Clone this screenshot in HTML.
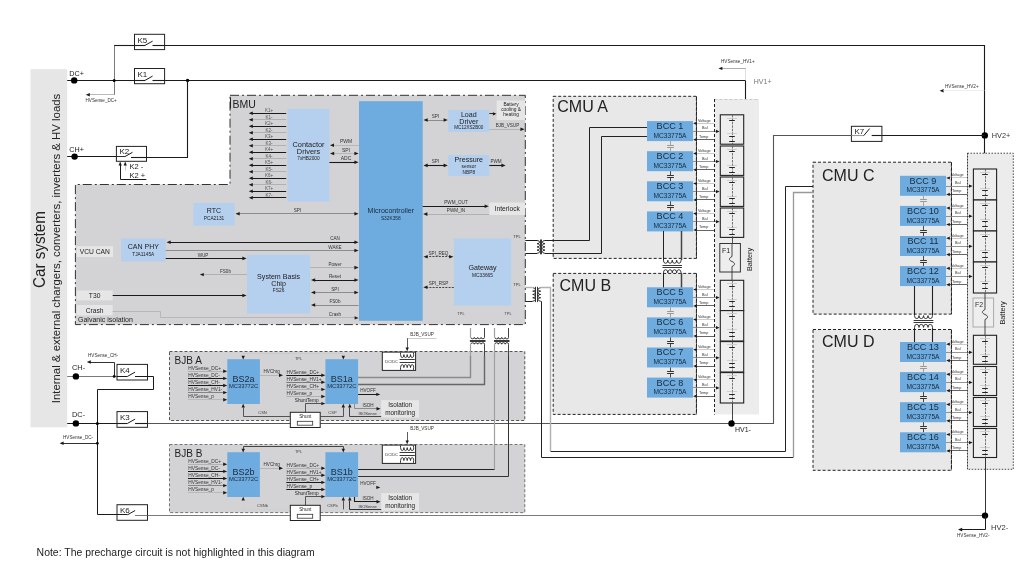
<!DOCTYPE html>
<html lang="en"><head><meta charset="utf-8"><title>HVBMS block diagram</title>
<style>html,body{margin:0;padding:0;background:#fff}body{width:1030px;height:579px;overflow:hidden}svg{display:block;filter:blur(0.4px)}</style>
</head><body>
<svg width="1030" height="579" viewBox="0 0 1030 579" font-family='"Liberation Sans", sans-serif'>
<rect width="1030" height="579" fill="#fff"/>
<rect x="30.5" y="69.2" width="36.7" height="358.1" fill="#e6e6e6" stroke="none" stroke-width="1"/>
<polygon points="230.0,95.3 525.3,95.3 525.3,324.6 75.4,324.6 75.4,184.5 230.0,184.5" fill="#d3d3d5" stroke="#333" stroke-width="1" stroke-dasharray="9 3 2 3"/>
<rect x="169.5" y="351.5" width="355.3" height="69.0" fill="#d3d3d5" stroke="#444" stroke-width="0.9" stroke-dasharray="3 2"/>
<rect x="169.5" y="444.5" width="355.3" height="68.1" fill="#d3d3d5" stroke="#666" stroke-width="0.9" stroke-dasharray="3 2"/>
<rect x="553.2" y="96.3" width="143.2" height="162.1" fill="#e8e8e8" stroke="#222" stroke-width="1" stroke-dasharray="3 2"/>
<rect x="553.2" y="273.4" width="143.2" height="141.0" fill="#e8e8e8" stroke="#222" stroke-width="1" stroke-dasharray="3 2"/>
<rect x="813.0" y="162.2" width="138.4" height="151.9" fill="#e8e8e8" stroke="#222" stroke-width="1" stroke-dasharray="3 2"/>
<rect x="813.0" y="329.5" width="138.4" height="140.8" fill="#e8e8e8" stroke="#222" stroke-width="1" stroke-dasharray="3 2"/>
<rect x="714.4" y="99.0" width="44.6" height="315.4" fill="#ececec" stroke="none" stroke-width="1"/>
<polyline points="714.5,99.0 714.5,414.4" fill="none" stroke="#222" stroke-width="1" stroke-dasharray="3 2"/>
<polyline points="714.4,99.5 759.0,99.5" fill="none" stroke="#bbb" stroke-width="0.7" stroke-dasharray="3 2"/>
<rect x="967.5" y="153.2" width="45.8" height="316.1" fill="#ececec" stroke="#333" stroke-width="0.9" stroke-dasharray="1.5 1.5"/>
<text x="45.3" y="249.5" font-size="16.2" text-anchor="middle" fill="#222" transform="rotate(-90 45.3 249.5)" textLength="77" lengthAdjust="spacingAndGlyphs">Car system</text>
<text x="60.3" y="248.5" font-size="11.4" text-anchor="middle" fill="#222" transform="rotate(-90 60.3 248.5)">Internal &amp; external chargers, converters, inverters &amp; HV loads</text>
<polyline points="67.2,80.5 144.8,80.5" fill="none" stroke="#1a1a1a" stroke-width="1.1"/>
<polyline points="152.5,80.5 745.8,80.5" fill="none" stroke="#1a1a1a" stroke-width="1.1"/>
<circle cx="74.2" cy="80.4" r="3.2" fill="#000"/>
<text x="69.3" y="75.8" font-size="7.2" text-anchor="start" fill="#1a1a1a">DC+</text>
<polyline points="114.5,94.8 114.5,45.4" fill="none" stroke="#7a7a7a" stroke-width="1"/>
<polyline points="114.2,45.5 144.8,45.5" fill="none" stroke="#1a1a1a" stroke-width="1.1"/>
<polyline points="152.5,45.5 984.5,45.5 984.5,153.2" fill="none" stroke="#1a1a1a" stroke-width="1.1"/>
<circle cx="114.2" cy="80.4" r="1.5" fill="#000"/>
<circle cx="187.6" cy="80.4" r="1.7" fill="#000"/>
<polyline points="88.0,94.5 114.2,94.5" fill="none" stroke="#a8a8a8" stroke-width="0.8"/>
<polygon points="85.8,94.8 89.8,93.1 89.8,96.5" fill="#1a1a1a"/>
<text x="85.5" y="102.3" font-size="4.6" text-anchor="start" fill="#333">HVSense_DC+</text>
<polyline points="187.5,80.4 187.5,157.5 131.0,157.5" fill="none" stroke="#1a1a1a" stroke-width="1.1"/>
<polyline points="67.2,156.5 127.0,156.5" fill="none" stroke="#1a1a1a" stroke-width="1"/>
<circle cx="74.6" cy="156.6" r="3.2" fill="#000"/>
<text x="69.3" y="152.0" font-size="7.2" text-anchor="start" fill="#1a1a1a">CH+</text>
<rect x="134.5" y="34.3" width="30.1" height="15.3" fill="#fff" stroke="#222" stroke-width="1"/>
<polyline points="145.0,45.4 152.6,41.1" fill="none" stroke="#1a1a1a" stroke-width="1"/>
<text x="137.5" y="42.8" font-size="8" text-anchor="start" fill="#222">K5</text>
<polyline points="152.5,45.5 164.6,45.5" fill="none" stroke="#1a1a1a" stroke-width="1.1"/>
<polyline points="134.5,45.5 145.0,45.5" fill="none" stroke="#1a1a1a" stroke-width="1.1"/>
<rect x="134.5" y="68.5" width="30.1" height="15.2" fill="#fff" stroke="#222" stroke-width="1"/>
<polyline points="145.0,80.4 152.6,76.1" fill="none" stroke="#1a1a1a" stroke-width="1"/>
<text x="137.5" y="77.0" font-size="8" text-anchor="start" fill="#222">K1</text>
<polyline points="152.5,80.5 164.6,80.5" fill="none" stroke="#1a1a1a" stroke-width="1.1"/>
<polyline points="134.5,80.5 145.0,80.5" fill="none" stroke="#1a1a1a" stroke-width="1.1"/>
<rect x="116.4" y="146.4" width="30.1" height="14.9" fill="#fff" stroke="#222" stroke-width="1"/>
<polyline points="124.9,156.6 132.5,152.3" fill="none" stroke="#1a1a1a" stroke-width="1"/>
<text x="119.4" y="153.9" font-size="8" text-anchor="start" fill="#222">K2</text>
<polyline points="131.0,157.5 146.3,157.5" fill="none" stroke="#1a1a1a" stroke-width="1.1"/>
<polyline points="116.4,156.5 125.0,156.5" fill="none" stroke="#1a1a1a" stroke-width="0.9"/>
<polyline points="120.5,163.5 120.5,179.5 146.3,179.5" fill="none" stroke="#1a1a1a" stroke-width="1"/>
<polygon points="120.2,161.6 118.6,165.6 121.8,165.6" fill="#1a1a1a"/>
<polyline points="125.5,163.5 125.5,170.5" fill="none" stroke="#bbb" stroke-width="0.8"/>
<polygon points="125.2,161.6 123.6,165.6 126.8,165.6" fill="#1a1a1a"/>
<text x="129.6" y="169.2" font-size="7.5" text-anchor="start" fill="#1a1a1a">K2 -</text>
<text x="129.6" y="177.6" font-size="7.5" text-anchor="start" fill="#1a1a1a">K2 +</text>
<polyline points="67.2,376.5 127.5,376.5" fill="none" stroke="#7a7a7a" stroke-width="1"/>
<circle cx="75.9" cy="376.4" r="3.2" fill="#000"/>
<text x="72.0" y="369.8" font-size="7.4" text-anchor="start" fill="#1a1a1a">CH-</text>
<circle cx="114.2" cy="376.4" r="1.4" fill="#000"/>
<polyline points="114.5,376.4 114.5,362.5 89.0,362.5" fill="none" stroke="#1a1a1a" stroke-width="0.9"/>
<polygon points="86.8,362.0 90.8,360.3 90.8,363.7" fill="#1a1a1a"/>
<text x="88.0" y="357.0" font-size="4.6" text-anchor="start" fill="#333">HVSense_CH-</text>
<rect x="117.0" y="364.4" width="30.5" height="15.6" fill="#fff" stroke="#222" stroke-width="1"/>
<polyline points="127.5,376.4 135.1,372.1" fill="none" stroke="#1a1a1a" stroke-width="1"/>
<text x="120.0" y="372.9" font-size="8" text-anchor="start" fill="#222">K4</text>
<polyline points="117.0,376.5 127.5,376.5" fill="none" stroke="#1a1a1a" stroke-width="1"/>
<polyline points="135.0,376.5 153.5,376.5 153.5,389.5 97.5,389.5 97.5,514.5 127.5,514.5" fill="none" stroke="#1a1a1a" stroke-width="1"/>
<polyline points="67.2,423.5 127.5,423.5" fill="none" stroke="#1a1a1a" stroke-width="1.1"/>
<circle cx="75.9" cy="423.4" r="3.2" fill="#000"/>
<circle cx="97.3" cy="423.4" r="1.5" fill="#000"/>
<text x="72.0" y="417.0" font-size="7.4" text-anchor="start" fill="#1a1a1a">DC-</text>
<polyline points="135.0,423.5 773.5,423.5 773.5,135.5 851.4,135.5" fill="none" stroke="#555" stroke-width="1.1"/>
<rect x="117.0" y="411.6" width="30.5" height="15.7" fill="#fff" stroke="#222" stroke-width="1"/>
<polyline points="127.5,423.4 135.1,419.1" fill="none" stroke="#1a1a1a" stroke-width="1"/>
<text x="120.0" y="420.1" font-size="8" text-anchor="start" fill="#222">K3</text>
<polyline points="117.0,423.5 127.5,423.5" fill="none" stroke="#1a1a1a" stroke-width="1.1"/>
<polyline points="135.0,423.5 147.5,423.5" fill="none" stroke="#1a1a1a" stroke-width="1.1"/>
<circle cx="97.3" cy="443.3" r="1.4" fill="#000"/>
<polyline points="62.0,443.5 97.3,443.5" fill="none" stroke="#1a1a1a" stroke-width="0.9"/>
<polygon points="59.6,443.3 63.6,441.6 63.6,445.0" fill="#1a1a1a"/>
<text x="63.0" y="439.0" font-size="4.6" text-anchor="start" fill="#333">HVSense_DC-</text>
<polyline points="135.0,515.5 985.0,515.5" fill="none" stroke="#7a7a7a" stroke-width="1"/>
<rect x="117.0" y="504.7" width="30.5" height="15.6" fill="#fff" stroke="#222" stroke-width="1"/>
<polyline points="127.5,514.8 135.1,510.5" fill="none" stroke="#1a1a1a" stroke-width="1"/>
<text x="120.0" y="513.2" font-size="8" text-anchor="start" fill="#222">K6</text>
<polyline points="117.0,514.5 127.5,514.5" fill="none" stroke="#1a1a1a" stroke-width="1"/>
<polyline points="135.0,515.5 147.5,515.5" fill="none" stroke="#7a7a7a" stroke-width="1"/>
<text x="232.5" y="108.0" font-size="10.5" text-anchor="start" fill="#222">BMU</text>
<polyline points="230.5,97.5 230.5,108.5" fill="none" stroke="#222" stroke-width="1"/>
<rect x="287.6" y="108.7" width="41.8" height="93.0" fill="#b5cfee" stroke="none" stroke-width="1"/>
<text x="308.5" y="147.0" font-size="7.4" text-anchor="middle" fill="#222">Contactor</text>
<text x="308.5" y="153.5" font-size="7.4" text-anchor="middle" fill="#222">Drivers</text>
<text x="308.5" y="159.8" font-size="4.8" text-anchor="middle" fill="#222">7xHB2000</text>
<polyline points="251.5,113.5 286.2,113.5" fill="none" stroke="#1a1a1a" stroke-width="1.1"/>
<polygon points="248.8,113.2 252.8,111.5 252.8,114.9" fill="#1a1a1a"/>
<text x="269.0" y="112.1" font-size="4.5" text-anchor="middle" fill="#555">K1+</text>
<polyline points="251.5,119.5 286.2,119.5" fill="none" stroke="#a8a8a8" stroke-width="0.8"/>
<polygon points="248.8,119.7 252.8,118.0 252.8,121.4" fill="#1a1a1a"/>
<text x="269.0" y="118.6" font-size="4.5" text-anchor="middle" fill="#555">K1-</text>
<polyline points="251.5,126.5 286.2,126.5" fill="none" stroke="#1a1a1a" stroke-width="1.1"/>
<polygon points="248.8,126.2 252.8,124.5 252.8,127.9" fill="#1a1a1a"/>
<text x="269.0" y="125.1" font-size="4.5" text-anchor="middle" fill="#555">K2+</text>
<polyline points="251.5,132.5 286.2,132.5" fill="none" stroke="#a8a8a8" stroke-width="0.8"/>
<polygon points="248.8,132.7 252.8,131.0 252.8,134.4" fill="#1a1a1a"/>
<text x="269.0" y="131.6" font-size="4.5" text-anchor="middle" fill="#555">K2-</text>
<polyline points="251.5,139.5 286.2,139.5" fill="none" stroke="#1a1a1a" stroke-width="1.1"/>
<polygon points="248.8,139.2 252.8,137.5 252.8,140.9" fill="#1a1a1a"/>
<text x="269.0" y="138.1" font-size="4.5" text-anchor="middle" fill="#555">K3+</text>
<polyline points="251.5,145.5 286.2,145.5" fill="none" stroke="#a8a8a8" stroke-width="0.8"/>
<polygon points="248.8,145.7 252.8,144.0 252.8,147.4" fill="#1a1a1a"/>
<text x="269.0" y="144.6" font-size="4.5" text-anchor="middle" fill="#555">K3-</text>
<polyline points="251.5,152.5 286.2,152.5" fill="none" stroke="#1a1a1a" stroke-width="1.1"/>
<polygon points="248.8,152.2 252.8,150.5 252.8,153.9" fill="#1a1a1a"/>
<text x="269.0" y="151.1" font-size="4.5" text-anchor="middle" fill="#555">K4+</text>
<polyline points="251.5,158.5 286.2,158.5" fill="none" stroke="#a8a8a8" stroke-width="0.8"/>
<polygon points="248.8,158.7 252.8,157.0 252.8,160.4" fill="#1a1a1a"/>
<text x="269.0" y="157.6" font-size="4.5" text-anchor="middle" fill="#555">K4-</text>
<polyline points="251.5,165.5 286.2,165.5" fill="none" stroke="#1a1a1a" stroke-width="1.1"/>
<polygon points="248.8,165.2 252.8,163.5 252.8,166.9" fill="#1a1a1a"/>
<text x="269.0" y="164.1" font-size="4.5" text-anchor="middle" fill="#555">K5+</text>
<polyline points="251.5,171.5 286.2,171.5" fill="none" stroke="#a8a8a8" stroke-width="0.8"/>
<polygon points="248.8,171.7 252.8,170.0 252.8,173.4" fill="#1a1a1a"/>
<text x="269.0" y="170.6" font-size="4.5" text-anchor="middle" fill="#555">K5-</text>
<polyline points="251.5,178.5 286.2,178.5" fill="none" stroke="#1a1a1a" stroke-width="1.1"/>
<polygon points="248.8,178.2 252.8,176.5 252.8,179.9" fill="#1a1a1a"/>
<text x="269.0" y="177.1" font-size="4.5" text-anchor="middle" fill="#555">K6+</text>
<polyline points="251.5,184.5 286.2,184.5" fill="none" stroke="#a8a8a8" stroke-width="0.8"/>
<polygon points="248.8,184.7 252.8,183.0 252.8,186.4" fill="#1a1a1a"/>
<text x="269.0" y="183.6" font-size="4.5" text-anchor="middle" fill="#555">K6-</text>
<polyline points="251.5,191.5 286.2,191.5" fill="none" stroke="#1a1a1a" stroke-width="1.1"/>
<polygon points="248.8,191.2 252.8,189.5 252.8,192.9" fill="#1a1a1a"/>
<text x="269.0" y="190.1" font-size="4.5" text-anchor="middle" fill="#555">K7+</text>
<polyline points="251.5,197.5 286.2,197.5" fill="none" stroke="#1a1a1a" stroke-width="1.1"/>
<polygon points="248.8,197.7 252.8,196.0 252.8,199.4" fill="#1a1a1a"/>
<text x="269.0" y="196.6" font-size="4.5" text-anchor="middle" fill="#555">K7-</text>
<polyline points="332.0,145.5 359.0,145.5" fill="none" stroke="#a8a8a8" stroke-width="0.7"/>
<polygon points="330.0,145.2 334.0,143.5 334.0,146.9" fill="#1a1a1a"/>
<text x="346.0" y="143.4" font-size="5" text-anchor="middle" fill="#333">PWM</text>
<polyline points="332.5,153.5 356.1,153.5" fill="none" stroke="#a8a8a8" stroke-width="0.7"/>
<polygon points="358.6,153.5 354.4,151.7 354.4,155.3" fill="#1a1a1a"/>
<polygon points="330.0,153.5 334.2,151.7 334.2,155.3" fill="#1a1a1a"/>
<text x="346.0" y="151.7" font-size="5" text-anchor="middle" fill="#333">SPI</text>
<polyline points="329.4,162.5 356.1,162.5" fill="none" stroke="#1a1a1a" stroke-width="1.1"/>
<polygon points="358.6,162.2 354.4,160.4 354.4,164.0" fill="#1a1a1a"/>
<text x="346.0" y="160.2" font-size="5" text-anchor="middle" fill="#333">ADC</text>
<rect x="359.0" y="101.2" width="63.7" height="219.6" fill="#6eabdf" stroke="none" stroke-width="1"/>
<text x="390.8" y="213.3" font-size="7.1" text-anchor="middle" fill="#1a2a3a">Microcontroller</text>
<text x="390.8" y="219.6" font-size="4.8" text-anchor="middle" fill="#1a2a3a">S32K358</text>
<rect x="193.5" y="203.0" width="41.1" height="22.6" fill="#b5cfee" stroke="none" stroke-width="1"/>
<text x="214.0" y="213.2" font-size="7" text-anchor="middle" fill="#222">RTC</text>
<text x="214.0" y="219.6" font-size="4.8" text-anchor="middle" fill="#222">PCA2131</text>
<polyline points="238.0,213.5 356.1,213.5" fill="none" stroke="#7a7a7a" stroke-width="0.8"/>
<polygon points="358.6,213.7 354.4,211.9 354.4,215.5" fill="#1a1a1a"/>
<polygon points="235.5,213.7 239.7,211.9 239.7,215.5" fill="#1a1a1a"/>
<text x="297.5" y="211.8" font-size="4.6" text-anchor="middle" fill="#333">SPI</text>
<rect x="121.0" y="238.5" width="44.7" height="22.9" fill="#b5cfee" stroke="none" stroke-width="1"/>
<text x="143.3" y="249.3" font-size="7" text-anchor="middle" fill="#222">CAN PHY</text>
<text x="143.3" y="255.8" font-size="4.8" text-anchor="middle" fill="#222">TJA1145A</text>
<rect x="76.6" y="246.2" width="36.4" height="10.8" fill="#e6e6e6" stroke="none" stroke-width="1"/>
<text x="94.8" y="254.2" font-size="6.7" text-anchor="middle" fill="#222">VCU CAN</text>
<polyline points="169.0,242.5 356.1,242.5" fill="none" stroke="#1a1a1a" stroke-width="1.1"/>
<polygon points="358.6,242.3 354.4,240.5 354.4,244.1" fill="#1a1a1a"/>
<polygon points="166.5,242.3 170.7,240.5 170.7,244.1" fill="#1a1a1a"/>
<text x="335.0" y="240.3" font-size="4.6" text-anchor="middle" fill="#333">CAN</text>
<polyline points="165.7,250.5 356.1,250.5" fill="none" stroke="#7a7a7a" stroke-width="0.8"/>
<polygon points="358.6,250.5 354.4,248.7 354.4,252.3" fill="#1a1a1a"/>
<text x="335.0" y="248.6" font-size="4.6" text-anchor="middle" fill="#333">WAKE</text>
<polyline points="165.7,258.5 244.1,258.5" fill="none" stroke="#1a1a1a" stroke-width="1.1"/>
<polygon points="246.6,258.4 242.4,256.6 242.4,260.2" fill="#1a1a1a"/>
<text x="203.0" y="256.5" font-size="4.6" text-anchor="middle" fill="#333">WUP</text>
<rect x="247.0" y="254.7" width="63.2" height="58.9" fill="#b5cfee" stroke="none" stroke-width="1"/>
<text x="278.6" y="278.6" font-size="7.1" text-anchor="middle" fill="#222">System Basis</text>
<text x="278.6" y="285.8" font-size="7.1" text-anchor="middle" fill="#222">Chip</text>
<text x="278.6" y="292.0" font-size="4.8" text-anchor="middle" fill="#222">FS26</text>
<polyline points="202.0,274.5 247.0,274.5" fill="none" stroke="#a8a8a8" stroke-width="0.8"/>
<polygon points="199.8,274.6 203.8,272.9 203.8,276.3" fill="#1a1a1a"/>
<text x="225.5" y="272.6" font-size="4.6" text-anchor="middle" fill="#333">FS0b</text>
<rect x="76.6" y="290.5" width="36.1" height="9.9" fill="#e6e6e6" stroke="none" stroke-width="1"/>
<text x="94.6" y="298.0" font-size="6.7" text-anchor="middle" fill="#222">T30</text>
<polyline points="112.7,295.5 244.1,295.5" fill="none" stroke="#1a1a1a" stroke-width="1"/>
<polygon points="246.6,295.5 242.4,293.7 242.4,297.3" fill="#1a1a1a"/>
<rect x="76.6" y="305.0" width="36.1" height="10.4" fill="#e6e6e6" stroke="none" stroke-width="1"/>
<text x="94.6" y="312.7" font-size="6.7" text-anchor="middle" fill="#222">Crash</text>
<polyline points="112.7,311.5 160.5,311.5 160.5,317.5 355.0,317.5" fill="none" stroke="#b0b0b0" stroke-width="0.8"/>
<polygon points="358.6,317.9 354.6,316.2 354.6,319.6" fill="#1a1a1a"/>
<text x="78.0" y="322.2" font-size="7.0" text-anchor="start" fill="#222">Galvanic isolation</text>
<polyline points="310.2,267.5 356.1,267.5" fill="none" stroke="#a8a8a8" stroke-width="0.8"/>
<polygon points="358.6,267.6 354.4,265.8 354.4,269.4" fill="#1a1a1a"/>
<text x="335.0" y="265.8" font-size="4.6" text-anchor="middle" fill="#333">Power</text>
<polyline points="313.5,280.5 356.1,280.5" fill="none" stroke="#1a1a1a" stroke-width="1.1"/>
<polygon points="358.6,280.0 354.4,278.2 354.4,281.8" fill="#1a1a1a"/>
<polygon points="311.0,280.0 315.2,278.2 315.2,281.8" fill="#1a1a1a"/>
<text x="335.0" y="278.2" font-size="4.6" text-anchor="middle" fill="#333">Reset</text>
<polyline points="313.5,292.5 356.1,292.5" fill="none" stroke="#7a7a7a" stroke-width="0.8"/>
<polygon points="358.6,292.5 354.4,290.7 354.4,294.3" fill="#1a1a1a"/>
<polygon points="311.0,292.5 315.2,290.7 315.2,294.3" fill="#1a1a1a"/>
<text x="335.0" y="290.6" font-size="4.6" text-anchor="middle" fill="#333">SPI</text>
<polyline points="358.6,305.5 313.5,305.5" fill="none" stroke="#7a7a7a" stroke-width="0.8"/>
<polygon points="311.0,305.0 315.2,303.2 315.2,306.8" fill="#1a1a1a"/>
<text x="335.0" y="303.2" font-size="4.6" text-anchor="middle" fill="#333">FS0b</text>
<text x="335.0" y="316.0" font-size="4.6" text-anchor="middle" fill="#333">Crash</text>
<rect x="448.3" y="110.0" width="41.0" height="22.0" fill="#b5cfee" stroke="none" stroke-width="1"/>
<text x="468.8" y="117.0" font-size="7.1" text-anchor="middle" fill="#222">Load</text>
<text x="468.8" y="123.8" font-size="7.1" text-anchor="middle" fill="#222">Driver</text>
<text x="468.8" y="129.2" font-size="4.6" text-anchor="middle" fill="#222">MC12XS2B00</text>
<polyline points="426.0,120.5 445.3,120.5" fill="none" stroke="#7a7a7a" stroke-width="0.8"/>
<polygon points="447.8,120.0 443.6,118.2 443.6,121.8" fill="#1a1a1a"/>
<polygon points="423.5,120.0 427.7,118.2 427.7,121.8" fill="#1a1a1a"/>
<text x="435.5" y="118.2" font-size="4.6" text-anchor="middle" fill="#333">SPI</text>
<rect x="496.7" y="100.5" width="28.6" height="19.5" fill="#e6e6e6" stroke="none" stroke-width="1"/>
<text x="511.0" y="106.0" font-size="4.8" text-anchor="middle" fill="#222">Battery</text>
<text x="511.0" y="111.2" font-size="4.8" text-anchor="middle" fill="#222">cooling &amp;</text>
<text x="511.0" y="116.4" font-size="4.8" text-anchor="middle" fill="#222">heating</text>
<polyline points="489.3,113.5 494.3,113.5" fill="none" stroke="#1a1a1a" stroke-width="0.9"/>
<polygon points="496.5,113.8 492.9,112.2 492.9,115.4" fill="#1a1a1a"/>
<text x="507.5" y="127.0" font-size="4.6" text-anchor="middle" fill="#333">BJB_VSUP</text>
<polyline points="489.3,129.5 522.1,129.5" fill="none" stroke="#a8a8a8" stroke-width="0.7"/>
<polygon points="524.6,129.2 520.4,127.4 520.4,131.0" fill="#1a1a1a"/>
<rect x="448.3" y="155.0" width="41.0" height="21.0" fill="#b5cfee" stroke="none" stroke-width="1"/>
<text x="468.8" y="162.0" font-size="7.1" text-anchor="middle" fill="#222">Pressure</text>
<text x="468.8" y="168.0" font-size="4.8" text-anchor="middle" fill="#222">sensor</text>
<text x="468.8" y="174.2" font-size="4.8" text-anchor="middle" fill="#222">NBP8</text>
<polyline points="426.0,165.5 445.3,165.5" fill="none" stroke="#1a1a1a" stroke-width="1.1"/>
<polygon points="447.8,165.4 443.6,163.6 443.6,167.2" fill="#1a1a1a"/>
<polygon points="423.5,165.4 427.7,163.6 427.7,167.2" fill="#1a1a1a"/>
<text x="435.5" y="163.4" font-size="4.6" text-anchor="middle" fill="#333">SPI</text>
<polyline points="489.3,165.5 503.1,165.5" fill="none" stroke="#1a1a1a" stroke-width="1.1"/>
<polygon points="505.6,165.4 501.4,163.6 501.4,167.2" fill="#1a1a1a"/>
<text x="496.0" y="163.4" font-size="4.6" text-anchor="middle" fill="#333">PWM</text>
<rect x="489.3" y="202.5" width="36.0" height="12.5" fill="#e6e6e6" stroke="none" stroke-width="1"/>
<text x="507.3" y="211.0" font-size="6.7" text-anchor="middle" fill="#222">Interlock</text>
<polyline points="422.7,206.5 486.3,206.5" fill="none" stroke="#1a1a1a" stroke-width="1.1"/>
<polygon points="488.8,206.2 484.6,204.4 484.6,208.0" fill="#1a1a1a"/>
<text x="456.0" y="204.4" font-size="4.6" text-anchor="middle" fill="#333">PWM_OUT</text>
<polyline points="489.3,214.5 425.7,214.5" fill="none" stroke="#a8a8a8" stroke-width="0.8"/>
<polygon points="423.2,214.1 427.4,212.3 427.4,215.9" fill="#1a1a1a"/>
<text x="456.0" y="212.4" font-size="4.6" text-anchor="middle" fill="#333">PWM_IN</text>
<rect x="453.8" y="238.4" width="57.4" height="67.2" fill="#b5cfee" stroke="none" stroke-width="1"/>
<text x="482.5" y="270.0" font-size="7.1" text-anchor="middle" fill="#222">Gateway</text>
<text x="482.5" y="276.6" font-size="4.8" text-anchor="middle" fill="#222">MC33665</text>
<polyline points="426.0,256.5 450.9,256.5" fill="none" stroke="#333" stroke-width="0.9" stroke-dasharray="2 1.2"/>
<polygon points="453.4,256.8 449.2,255.0 449.2,258.6" fill="#1a1a1a"/>
<polygon points="423.5,256.8 427.7,255.0 427.7,258.6" fill="#1a1a1a"/>
<text x="438.5" y="254.8" font-size="4.6" text-anchor="middle" fill="#333">SPI_REQ</text>
<polyline points="453.8,287.5 425.8,287.5" fill="none" stroke="#333" stroke-width="0.9" stroke-dasharray="2 1.2"/>
<polygon points="423.3,287.2 427.5,285.4 427.5,289.0" fill="#1a1a1a"/>
<text x="438.5" y="285.2" font-size="4.6" text-anchor="middle" fill="#333">SPI_RSP</text>
<text x="517.0" y="237.6" font-size="4" text-anchor="middle" fill="#333">TPL</text>
<text x="517.0" y="286.0" font-size="4" text-anchor="middle" fill="#333">TPL</text>
<text x="461.0" y="315.3" font-size="4" text-anchor="middle" fill="#444">TPL</text>
<text x="508.0" y="315.3" font-size="4" text-anchor="middle" fill="#444">TPL</text>
<path d="M470.8,337.4 a1.73,1.50 0 0 0 3.45,0 a1.73,1.50 0 0 0 3.45,0 a1.73,1.50 0 0 0 3.45,0 a1.73,1.50 0 0 0 3.45,0" fill="none" stroke="#222" stroke-width="0.9"/>
<path d="M470.8,344.2 a1.73,1.50 0 0 1 3.45,0 a1.73,1.50 0 0 1 3.45,0 a1.73,1.50 0 0 1 3.45,0 a1.73,1.50 0 0 1 3.45,0" fill="none" stroke="#222" stroke-width="0.9"/>
<polyline points="469.9,340.5 485.5,340.5" fill="none" stroke="#222" stroke-width="0.9"/>
<polyline points="469.9,341.5 485.5,341.5" fill="none" stroke="#222" stroke-width="0.9"/>
<polyline points="470.5,328.0 470.5,337.4" fill="none" stroke="#a0a0a0" stroke-width="1.2"/>
<polyline points="484.5,328.0 484.5,337.4" fill="none" stroke="#444" stroke-width="1.0"/>
<polyline points="470.5,344.2 470.5,357.0" fill="none" stroke="#a0a0a0" stroke-width="1.2"/>
<polyline points="484.5,344.2 484.5,357.0" fill="none" stroke="#444" stroke-width="1.0"/>
<path d="M494.9,337.4 a1.71,1.50 0 0 0 3.43,0 a1.71,1.50 0 0 0 3.43,0 a1.71,1.50 0 0 0 3.43,0 a1.71,1.50 0 0 0 3.43,0" fill="none" stroke="#222" stroke-width="0.9"/>
<path d="M494.9,344.2 a1.71,1.50 0 0 1 3.43,0 a1.71,1.50 0 0 1 3.43,0 a1.71,1.50 0 0 1 3.43,0 a1.71,1.50 0 0 1 3.43,0" fill="none" stroke="#222" stroke-width="0.9"/>
<polyline points="494.0,340.5 509.5,340.5" fill="none" stroke="#222" stroke-width="0.9"/>
<polyline points="494.0,341.5 509.5,341.5" fill="none" stroke="#222" stroke-width="0.9"/>
<polyline points="494.5,328.0 494.5,337.4" fill="none" stroke="#a0a0a0" stroke-width="1.2"/>
<polyline points="508.5,328.0 508.5,337.4" fill="none" stroke="#444" stroke-width="1.0"/>
<polyline points="494.5,344.2 494.5,357.0" fill="none" stroke="#a0a0a0" stroke-width="1.2"/>
<polyline points="508.5,344.2 508.5,357.0" fill="none" stroke="#444" stroke-width="1.0"/>
<path d="M537.0,240.5 a2.6,1.60 0 0 1 0,3.20 a2.6,1.60 0 0 1 0,3.20 a2.6,1.60 0 0 1 0,3.20 a2.6,1.60 0 0 1 0,3.20" fill="none" stroke="#222" stroke-width="0.9"/>
<path d="M545.0,240.5 a2.6,1.60 0 0 0 0,3.20 a2.6,1.60 0 0 0 0,3.20 a2.6,1.60 0 0 0 0,3.20 a2.6,1.60 0 0 0 0,3.20" fill="none" stroke="#222" stroke-width="0.9"/>
<polyline points="540.5,239.5 540.5,254.3" fill="none" stroke="#222" stroke-width="0.9"/>
<polyline points="541.5,239.5 541.5,254.3" fill="none" stroke="#222" stroke-width="0.9"/>
<polyline points="525.3,240.5 537.0,240.5" fill="none" stroke="#1a1a1a" stroke-width="1"/>
<polyline points="525.3,253.5 537.0,253.5" fill="none" stroke="#1a1a1a" stroke-width="1"/>
<polyline points="545.0,240.5 589.5,240.5 589.5,127.5 647.0,127.5" fill="none" stroke="#222" stroke-width="1"/>
<polyline points="545.0,253.5 601.5,253.5 601.5,136.5 647.0,136.5" fill="none" stroke="#222" stroke-width="1"/>
<path d="M532.7,287.8 a2.6,1.66 0 0 1 0,3.33 a2.6,1.66 0 0 1 0,3.33 a2.6,1.66 0 0 1 0,3.33 a2.6,1.66 0 0 1 0,3.33" fill="none" stroke="#222" stroke-width="0.9"/>
<path d="M540.7,287.8 a2.6,1.66 0 0 0 0,3.33 a2.6,1.66 0 0 0 0,3.33 a2.6,1.66 0 0 0 0,3.33 a2.6,1.66 0 0 0 0,3.33" fill="none" stroke="#222" stroke-width="0.9"/>
<polyline points="535.5,286.8 535.5,302.1" fill="none" stroke="#222" stroke-width="0.9"/>
<polyline points="537.5,286.8 537.5,302.1" fill="none" stroke="#222" stroke-width="0.9"/>
<polyline points="525.3,287.5 532.7,287.5" fill="none" stroke="#b0b0b0" stroke-width="1.4"/>
<polyline points="525.3,301.5 532.7,301.5" fill="none" stroke="#222" stroke-width="1"/>
<polyline points="540.7,287.5 550.5,287.5 550.5,451.2" fill="none" stroke="#b0b0b0" stroke-width="1.4"/>
<polyline points="550.6,451.5 785.5,451.5 785.5,186.5 813.0,186.5" fill="none" stroke="#222" stroke-width="1"/>
<polyline points="540.7,301.5 541.5,301.5 541.5,457.5 793.3,457.5" fill="none" stroke="#222" stroke-width="1"/>
<polyline points="793.5,457.4 793.5,192.5 813.0,192.5" fill="none" stroke="#999" stroke-width="1.3"/>
<polyline points="813.0,186.5 900.0,186.5" fill="none" stroke="#e8e8e8" stroke-width="0"/>
<text x="174.6" y="364.0" font-size="10" text-anchor="start" fill="#222">BJB A</text>
<rect x="227.3" y="359.2" width="32.6" height="44.8" fill="#6eabdf" stroke="none" stroke-width="1"/>
<text x="243.6" y="382.3" font-size="9" text-anchor="middle" fill="#1a2a3a">BS2a</text>
<text x="243.6" y="388.3" font-size="5.8" text-anchor="middle" fill="#1a2a3a">MC33772C</text>
<rect x="325.4" y="359.2" width="32.7" height="44.8" fill="#6eabdf" stroke="none" stroke-width="1"/>
<text x="341.8" y="382.3" font-size="9" text-anchor="middle" fill="#1a2a3a">BS1a</text>
<text x="341.8" y="388.3" font-size="5.8" text-anchor="middle" fill="#1a2a3a">MC33772C</text>
<polyline points="188.0,371.5 224.5,371.5" fill="none" stroke="#a8a8a8" stroke-width="0.8"/>
<polygon points="227.2,371.3 223.2,369.6 223.2,373.0" fill="#1a1a1a"/>
<text x="188.3" y="370.0" font-size="4.8" text-anchor="start" fill="#333">HVSense_DC+</text>
<polyline points="188.0,378.5 224.5,378.5" fill="none" stroke="#1a1a1a" stroke-width="1.1"/>
<polygon points="227.2,378.4 223.2,376.7 223.2,380.1" fill="#1a1a1a"/>
<text x="188.3" y="377.1" font-size="4.8" text-anchor="start" fill="#333">HVSense_DC-</text>
<polyline points="188.0,385.5 224.5,385.5" fill="none" stroke="#1a1a1a" stroke-width="1.1"/>
<polygon points="227.2,385.5 223.2,383.8 223.2,387.2" fill="#1a1a1a"/>
<text x="188.3" y="384.2" font-size="4.8" text-anchor="start" fill="#333">HVSense_CH-</text>
<polyline points="188.0,392.5 224.5,392.5" fill="none" stroke="#7a7a7a" stroke-width="0.9"/>
<polygon points="227.2,392.6 223.2,390.9 223.2,394.3" fill="#1a1a1a"/>
<text x="188.3" y="391.3" font-size="4.8" text-anchor="start" fill="#333">HVSense_HV1-</text>
<polyline points="188.0,399.5 224.5,399.5" fill="none" stroke="#a8a8a8" stroke-width="0.6"/>
<polygon points="227.2,399.7 223.2,398.0 223.2,401.4" fill="#1a1a1a"/>
<text x="188.3" y="398.4" font-size="4.8" text-anchor="start" fill="#333">HVSense_p</text>
<polygon points="243.2,359.4 241.5,355.8 244.9,355.8" fill="#1a1a1a"/>
<polygon points="243.2,403.8 241.5,407.4 244.9,407.4" fill="#1a1a1a"/>
<polygon points="343.3,359.4 341.6,355.8 345.0,355.8" fill="#1a1a1a"/>
<polyline points="243.5,356.0 243.5,353.5 343.5,353.5 343.5,356.0" fill="none" stroke="#c4c4c4" stroke-width="0.5"/>
<text x="298.6" y="359.6" font-size="4" text-anchor="middle" fill="#444">TPL</text>
<text x="263.5" y="372.8" font-size="4.6" text-anchor="start" fill="#333">HVChrg</text>
<polyline points="260.0,375.5 280.0,375.5" fill="none" stroke="#a8a8a8" stroke-width="0.7"/>
<polygon points="283.0,375.2 279.0,373.5 279.0,376.9" fill="#1a1a1a"/>
<polyline points="286.3,375.5 322.5,375.5" fill="none" stroke="#1a1a1a" stroke-width="1.1"/>
<polygon points="325.3,375.2 321.3,373.5 321.3,376.9" fill="#1a1a1a"/>
<text x="286.5" y="373.9" font-size="4.8" text-anchor="start" fill="#333">HVSense_DC+</text>
<polyline points="286.3,382.5 322.5,382.5" fill="none" stroke="#7a7a7a" stroke-width="1.0"/>
<polygon points="325.3,382.3 321.3,380.6 321.3,384.0" fill="#1a1a1a"/>
<text x="286.5" y="381.0" font-size="4.8" text-anchor="start" fill="#333">HVSense_HV1+</text>
<polyline points="286.3,389.5 322.5,389.5" fill="none" stroke="#a8a8a8" stroke-width="0.8"/>
<polygon points="325.3,389.4 321.3,387.7 321.3,391.1" fill="#1a1a1a"/>
<text x="286.5" y="388.1" font-size="4.8" text-anchor="start" fill="#333">HVSense_CH+</text>
<polyline points="286.3,396.5 322.5,396.5" fill="none" stroke="#a8a8a8" stroke-width="0.8"/>
<polygon points="325.3,396.5 321.3,394.8 321.3,398.2" fill="#1a1a1a"/>
<text x="286.5" y="395.2" font-size="4.8" text-anchor="start" fill="#333">HVSense_p</text>
<polygon points="325.3,403.6 321.3,401.9 321.3,405.3" fill="#1a1a1a"/>
<text x="318.5" y="401.6" font-size="4.7" text-anchor="end" fill="#222">ShuntTemp</text>
<polyline points="305.5,412.3 305.5,403.5 322.0,403.5" fill="none" stroke="#333" stroke-width="0.8"/>
<rect x="290.3" y="412.3" width="29.9" height="15.2" fill="#fff" stroke="#222" stroke-width="1"/>
<text x="305.3" y="418.4" font-size="4.6" text-anchor="middle" fill="#222">Shunt</text>
<rect x="297.3" y="421.3" width="15.4" height="3.9" fill="#fff" stroke="#333" stroke-width="0.8"/>
<polyline points="243.5,407.5 243.5,416.5 290.3,416.5" fill="none" stroke="#444" stroke-width="0.9"/>
<text x="262.5" y="414.3" font-size="4.1" text-anchor="middle" fill="#444">CSN</text>
<polyline points="320.2,416.5 343.5,416.5 343.5,407.5" fill="none" stroke="#444" stroke-width="0.9"/>
<polygon points="343.3,403.8 341.6,407.6 345.0,407.6" fill="#1a1a1a"/>
<text x="332.5" y="414.3" font-size="4.1" text-anchor="middle" fill="#444">CSP</text>
<rect x="381.2" y="400.2" width="37.8" height="17.4" fill="#e6e6e6" stroke="none" stroke-width="1"/>
<text x="400.1" y="407.0" font-size="6.4" text-anchor="middle" fill="#222">Isolation</text>
<text x="400.1" y="415.0" font-size="6.4" text-anchor="middle" fill="#222">monitoring</text>
<polyline points="349.5,407.5 349.5,416.5 381.2,416.5" fill="none" stroke="#333" stroke-width="0.9"/>
<polygon points="349.8,403.8 348.1,407.6 351.5,407.6" fill="#1a1a1a"/>
<text x="367.5" y="414.8" font-size="4" text-anchor="middle" fill="#333">ISOSense</text>
<polyline points="354.5,404.0 354.5,408.5 377.5,408.5" fill="none" stroke="#7a7a7a" stroke-width="0.8"/>
<polygon points="380.5,408.8 376.5,407.1 376.5,410.5" fill="#1a1a1a"/>
<text x="368.0" y="407.0" font-size="4.6" text-anchor="middle" fill="#333">ISOH</text>
<polyline points="358.1,394.5 377.5,394.5" fill="none" stroke="#1a1a1a" stroke-width="1"/>
<polygon points="380.3,394.4 376.3,392.7 376.3,396.1" fill="#1a1a1a"/>
<text x="368.0" y="392.4" font-size="4.6" text-anchor="middle" fill="#333">HVOFF</text>
<rect x="382.3" y="352.1" width="33.3" height="18.3" fill="#fff" stroke="#222" stroke-width="1"/>
<text x="391.6" y="362.8" font-size="4" text-anchor="middle" fill="#333">DC/DC</text>
<path d="M400.6,354.6 a1.65,3.0 0 0 0 3.30,0 a1.65,3.0 0 0 0 3.30,0 a1.65,3.0 0 0 0 3.30,0 a1.65,3.0 0 0 0 3.30,0" fill="none" stroke="#222" stroke-width="0.9"/>
<path d="M400.6,367.6 a1.65,3.0 0 0 1 3.30,0 a1.65,3.0 0 0 1 3.30,0 a1.65,3.0 0 0 1 3.30,0 a1.65,3.0 0 0 1 3.30,0" fill="none" stroke="#222" stroke-width="0.9"/>
<polyline points="400.5,352.6 400.5,354.6" fill="none" stroke="#222" stroke-width="0.9"/>
<polyline points="413.5,352.6 413.5,354.6" fill="none" stroke="#222" stroke-width="0.9"/>
<polyline points="400.5,367.6 400.5,369.8" fill="none" stroke="#222" stroke-width="0.9"/>
<polyline points="413.5,367.6 413.5,369.8" fill="none" stroke="#222" stroke-width="0.9"/>
<polyline points="399.6,359.5 414.8,359.5" fill="none" stroke="#222" stroke-width="0.9"/>
<polyline points="399.6,362.5 414.8,362.5" fill="none" stroke="#222" stroke-width="0.9"/>
<text x="410.3" y="335.6" font-size="4.6" text-anchor="start" fill="#333">BJB_VSUP</text>
<polyline points="407.2,338.5 436.5,338.5" fill="none" stroke="#a8a8a8" stroke-width="0.6"/>
<polyline points="407.5,338.2 407.5,348.0" fill="none" stroke="#333" stroke-width="0.8"/>
<polygon points="407.2,351.2 405.5,347.4 408.9,347.4" fill="#1a1a1a"/>
<text x="174.6" y="457.0" font-size="10" text-anchor="start" fill="#222">BJB B</text>
<rect x="227.3" y="452.2" width="32.6" height="44.8" fill="#6eabdf" stroke="none" stroke-width="1"/>
<text x="243.6" y="475.3" font-size="9" text-anchor="middle" fill="#1a2a3a">BS2b</text>
<text x="243.6" y="481.3" font-size="5.8" text-anchor="middle" fill="#1a2a3a">MC33772C</text>
<rect x="325.4" y="452.2" width="32.7" height="44.8" fill="#6eabdf" stroke="none" stroke-width="1"/>
<text x="341.8" y="475.3" font-size="9" text-anchor="middle" fill="#1a2a3a">BS1b</text>
<text x="341.8" y="481.3" font-size="5.8" text-anchor="middle" fill="#1a2a3a">MC33772C</text>
<polyline points="188.0,464.5 224.5,464.5" fill="none" stroke="#a8a8a8" stroke-width="0.8"/>
<polygon points="227.2,464.3 223.2,462.6 223.2,466.0" fill="#1a1a1a"/>
<text x="188.3" y="463.0" font-size="4.8" text-anchor="start" fill="#333">HVSense_DC+</text>
<polyline points="188.0,471.5 224.5,471.5" fill="none" stroke="#1a1a1a" stroke-width="1.1"/>
<polygon points="227.2,471.4 223.2,469.7 223.2,473.1" fill="#1a1a1a"/>
<text x="188.3" y="470.1" font-size="4.8" text-anchor="start" fill="#333">HVSense_DC-</text>
<polyline points="188.0,478.5 224.5,478.5" fill="none" stroke="#1a1a1a" stroke-width="1.1"/>
<polygon points="227.2,478.5 223.2,476.8 223.2,480.2" fill="#1a1a1a"/>
<text x="188.3" y="477.2" font-size="4.8" text-anchor="start" fill="#333">HVSense_CH-</text>
<polyline points="188.0,485.5 224.5,485.5" fill="none" stroke="#7a7a7a" stroke-width="0.9"/>
<polygon points="227.2,485.6 223.2,483.9 223.2,487.3" fill="#1a1a1a"/>
<text x="188.3" y="484.3" font-size="4.8" text-anchor="start" fill="#333">HVSense_HV1-</text>
<polyline points="188.0,492.5 224.5,492.5" fill="none" stroke="#a8a8a8" stroke-width="0.6"/>
<polygon points="227.2,492.7 223.2,491.0 223.2,494.4" fill="#1a1a1a"/>
<text x="188.3" y="491.4" font-size="4.8" text-anchor="start" fill="#333">HVSense_p</text>
<polygon points="243.2,452.4 241.5,448.8 244.9,448.8" fill="#1a1a1a"/>
<polygon points="243.2,496.8 241.5,500.4 244.9,500.4" fill="#1a1a1a"/>
<polygon points="343.3,452.4 341.6,448.8 345.0,448.8" fill="#1a1a1a"/>
<polyline points="243.5,449.0 243.5,446.5 343.5,446.5 343.5,449.0" fill="none" stroke="#444" stroke-width="1.0"/>
<text x="298.6" y="452.6" font-size="4" text-anchor="middle" fill="#444">TPL</text>
<text x="263.5" y="465.8" font-size="4.6" text-anchor="start" fill="#333">HVChrg</text>
<polyline points="260.0,468.5 280.0,468.5" fill="none" stroke="#a8a8a8" stroke-width="0.7"/>
<polygon points="283.0,468.2 279.0,466.5 279.0,469.9" fill="#1a1a1a"/>
<polyline points="286.3,468.5 322.5,468.5" fill="none" stroke="#a8a8a8" stroke-width="0.8"/>
<polygon points="325.3,468.2 321.3,466.5 321.3,469.9" fill="#1a1a1a"/>
<text x="286.5" y="466.9" font-size="4.8" text-anchor="start" fill="#333">HVSense_DC+</text>
<polyline points="286.3,475.5 322.5,475.5" fill="none" stroke="#7a7a7a" stroke-width="1.0"/>
<polygon points="325.3,475.3 321.3,473.6 321.3,477.0" fill="#1a1a1a"/>
<text x="286.5" y="474.0" font-size="4.8" text-anchor="start" fill="#333">HVSense_HV1+</text>
<polyline points="286.3,482.5 322.5,482.5" fill="none" stroke="#1a1a1a" stroke-width="1.1"/>
<polygon points="325.3,482.4 321.3,480.7 321.3,484.1" fill="#1a1a1a"/>
<text x="286.5" y="481.1" font-size="4.8" text-anchor="start" fill="#333">HVSense_CH+</text>
<polyline points="286.3,489.5 322.5,489.5" fill="none" stroke="#1a1a1a" stroke-width="1.1"/>
<polygon points="325.3,489.5 321.3,487.8 321.3,491.2" fill="#1a1a1a"/>
<text x="286.5" y="488.2" font-size="4.8" text-anchor="start" fill="#333">HVSense_p</text>
<polygon points="325.3,496.6 321.3,494.9 321.3,498.3" fill="#1a1a1a"/>
<text x="318.5" y="494.6" font-size="4.7" text-anchor="end" fill="#222">ShuntTemp</text>
<polyline points="305.5,505.3 305.5,496.5 322.0,496.5" fill="none" stroke="#333" stroke-width="0.8"/>
<rect x="290.3" y="505.3" width="29.9" height="15.2" fill="#fff" stroke="#222" stroke-width="1"/>
<text x="305.3" y="511.4" font-size="4.6" text-anchor="middle" fill="#222">Shunt</text>
<rect x="297.3" y="514.3" width="15.4" height="3.9" fill="#fff" stroke="#333" stroke-width="0.8"/>
<polyline points="243.5,500.5 243.5,509.5 290.3,509.5" fill="none" stroke="#ccc" stroke-width="0.4"/>
<text x="262.5" y="507.3" font-size="4.1" text-anchor="middle" fill="#444">CSNb</text>
<polyline points="343.5,509.4 343.5,500.5" fill="none" stroke="#444" stroke-width="0.9"/>
<polygon points="343.3,496.8 341.6,500.6 345.0,500.6" fill="#1a1a1a"/>
<text x="332.5" y="507.3" font-size="4.1" text-anchor="middle" fill="#444">CSPb</text>
<rect x="381.2" y="493.2" width="37.8" height="17.4" fill="#e6e6e6" stroke="none" stroke-width="1"/>
<text x="400.1" y="500.0" font-size="6.4" text-anchor="middle" fill="#222">Isolation</text>
<text x="400.1" y="508.0" font-size="6.4" text-anchor="middle" fill="#222">monitoring</text>
<polyline points="349.5,500.5 349.5,509.5 381.2,509.5" fill="none" stroke="#333" stroke-width="1.0"/>
<polygon points="349.8,496.8 348.1,500.6 351.5,500.6" fill="#1a1a1a"/>
<text x="367.5" y="507.8" font-size="4" text-anchor="middle" fill="#333">ISOSense</text>
<polyline points="354.5,497.0 354.5,501.5 377.5,501.5" fill="none" stroke="#1a1a1a" stroke-width="1.1"/>
<polygon points="380.5,501.8 376.5,500.1 376.5,503.5" fill="#1a1a1a"/>
<text x="368.0" y="500.0" font-size="4.6" text-anchor="middle" fill="#333">ISOH</text>
<polygon points="380.3,487.4 376.3,485.7 376.3,489.1" fill="#1a1a1a"/>
<text x="368.0" y="485.4" font-size="4.6" text-anchor="middle" fill="#333">HVOFF</text>
<rect x="382.3" y="445.1" width="33.3" height="18.3" fill="#fff" stroke="#222" stroke-width="1"/>
<text x="391.6" y="455.8" font-size="4" text-anchor="middle" fill="#333">DC/DC</text>
<path d="M400.6,447.6 a1.65,3.0 0 0 0 3.30,0 a1.65,3.0 0 0 0 3.30,0 a1.65,3.0 0 0 0 3.30,0 a1.65,3.0 0 0 0 3.30,0" fill="none" stroke="#222" stroke-width="0.9"/>
<path d="M400.6,460.6 a1.65,3.0 0 0 1 3.30,0 a1.65,3.0 0 0 1 3.30,0 a1.65,3.0 0 0 1 3.30,0 a1.65,3.0 0 0 1 3.30,0" fill="none" stroke="#222" stroke-width="0.9"/>
<polyline points="400.5,445.6 400.5,447.6" fill="none" stroke="#222" stroke-width="0.9"/>
<polyline points="413.5,445.6 413.5,447.6" fill="none" stroke="#222" stroke-width="0.9"/>
<polyline points="400.5,460.6 400.5,462.8" fill="none" stroke="#222" stroke-width="0.9"/>
<polyline points="413.5,460.6 413.5,462.8" fill="none" stroke="#222" stroke-width="0.9"/>
<polyline points="399.6,452.5 414.8,452.5" fill="none" stroke="#222" stroke-width="0.9"/>
<polyline points="399.6,455.5 414.8,455.5" fill="none" stroke="#222" stroke-width="0.9"/>
<text x="410.3" y="430.0" font-size="4.6" text-anchor="start" fill="#333">BJB_VSUP</text>
<polyline points="407.5,432.0 407.5,441.0" fill="none" stroke="#333" stroke-width="0.8"/>
<polygon points="407.2,444.2 405.5,440.4 408.9,440.4" fill="#1a1a1a"/>
<polyline points="358.1,377.5 470.5,377.5 470.5,356.0" fill="none" stroke="#8a8a8a" stroke-width="1.4"/>
<polyline points="358.1,384.5 484.5,384.5 484.5,356.0" fill="none" stroke="#666" stroke-width="1.4"/>
<polyline points="358.1,469.5 494.9,469.5" fill="none" stroke="#222" stroke-width="1.0"/>
<polyline points="494.5,469.6 494.5,356.0" fill="none" stroke="#a0a0a0" stroke-width="1.2"/>
<polyline points="358.1,476.5 508.5,476.5 508.5,356.0" fill="none" stroke="#333" stroke-width="1.0"/>
<text x="557.3" y="112.0" font-size="16" text-anchor="start" fill="#222">CMU A</text>
<rect x="647.0" y="121.1" width="46.0" height="20.0" fill="#6eabdf" stroke="none" stroke-width="1"/>
<text x="670.0" y="129.0" font-size="9.1" text-anchor="middle" fill="#1a2a3a">BCC 1</text>
<text x="670.0" y="137.7" font-size="6.6" text-anchor="middle" fill="#1a2a3a">MC33775A</text>
<polyline points="670.5,141.1 670.5,145.1" fill="none" stroke="#999" stroke-width="0.9"/>
<polyline points="670.5,147.5 670.5,151.2" fill="none" stroke="#999" stroke-width="0.9"/>
<polyline points="667.1,145.5 673.9,145.5" fill="none" stroke="#999" stroke-width="1"/>
<polyline points="667.1,147.5 673.9,147.5" fill="none" stroke="#999" stroke-width="1"/>
<text x="698.0" y="121.7" font-size="3.8" text-anchor="start" fill="#333">Voltage</text>
<polyline points="696.0,123.5 714.4,123.5" fill="none" stroke="#a8a8a8" stroke-width="0.6"/>
<polygon points="693.2,123.3 696.8,121.7 696.8,124.9" fill="#1a1a1a"/>
<text x="702.0" y="129.4" font-size="3.8" text-anchor="start" fill="#333">Bal</text>
<polyline points="693.0,131.5 716.9,131.5" fill="none" stroke="#7a7a7a" stroke-width="0.8"/>
<polygon points="719.6,131.4 716.0,129.8 716.0,133.0" fill="#1a1a1a"/>
<text x="699.0" y="137.7" font-size="3.8" text-anchor="start" fill="#333">Temp</text>
<polyline points="696.0,139.5 714.4,139.5" fill="none" stroke="#555" stroke-width="0.9"/>
<polygon points="693.2,139.7 696.8,138.1 696.8,141.3" fill="#1a1a1a"/>
<rect x="647.0" y="151.2" width="46.0" height="20.0" fill="#6eabdf" stroke="none" stroke-width="1"/>
<text x="670.0" y="159.1" font-size="9.1" text-anchor="middle" fill="#1a2a3a">BCC 2</text>
<text x="670.0" y="167.8" font-size="6.6" text-anchor="middle" fill="#1a2a3a">MC33775A</text>
<polyline points="670.5,171.2 670.5,175.2" fill="none" stroke="#333" stroke-width="0.9"/>
<polyline points="670.5,177.6 670.5,181.3" fill="none" stroke="#333" stroke-width="0.9"/>
<polyline points="667.1,175.5 673.9,175.5" fill="none" stroke="#333" stroke-width="1"/>
<polyline points="667.1,177.5 673.9,177.5" fill="none" stroke="#333" stroke-width="1"/>
<text x="698.0" y="151.8" font-size="3.8" text-anchor="start" fill="#333">Voltage</text>
<polyline points="696.0,153.5 714.4,153.5" fill="none" stroke="#a8a8a8" stroke-width="0.6"/>
<polygon points="693.2,153.4 696.8,151.8 696.8,155.0" fill="#1a1a1a"/>
<text x="702.0" y="159.5" font-size="3.8" text-anchor="start" fill="#333">Bal</text>
<polyline points="693.0,161.5 716.9,161.5" fill="none" stroke="#7a7a7a" stroke-width="0.8"/>
<polygon points="719.6,161.5 716.0,159.9 716.0,163.1" fill="#1a1a1a"/>
<text x="699.0" y="167.8" font-size="3.8" text-anchor="start" fill="#333">Temp</text>
<polyline points="696.0,169.5 714.4,169.5" fill="none" stroke="#555" stroke-width="0.9"/>
<polygon points="693.2,169.8 696.8,168.2 696.8,171.4" fill="#1a1a1a"/>
<rect x="647.0" y="181.3" width="46.0" height="20.0" fill="#6eabdf" stroke="none" stroke-width="1"/>
<text x="670.0" y="189.2" font-size="9.1" text-anchor="middle" fill="#1a2a3a">BCC 3</text>
<text x="670.0" y="197.9" font-size="6.6" text-anchor="middle" fill="#1a2a3a">MC33775A</text>
<polyline points="670.5,201.3 670.5,205.3" fill="none" stroke="#333" stroke-width="0.9"/>
<polyline points="670.5,207.7 670.5,211.4" fill="none" stroke="#333" stroke-width="0.9"/>
<polyline points="667.1,205.5 673.9,205.5" fill="none" stroke="#333" stroke-width="1"/>
<polyline points="667.1,207.5 673.9,207.5" fill="none" stroke="#333" stroke-width="1"/>
<text x="698.0" y="181.9" font-size="3.8" text-anchor="start" fill="#333">Voltage</text>
<polyline points="696.0,183.5 714.4,183.5" fill="none" stroke="#a8a8a8" stroke-width="0.6"/>
<polygon points="693.2,183.5 696.8,181.9 696.8,185.1" fill="#1a1a1a"/>
<text x="702.0" y="189.6" font-size="3.8" text-anchor="start" fill="#333">Bal</text>
<polyline points="693.0,191.5 716.9,191.5" fill="none" stroke="#7a7a7a" stroke-width="0.8"/>
<polygon points="719.6,191.6 716.0,190.0 716.0,193.2" fill="#1a1a1a"/>
<text x="699.0" y="197.9" font-size="3.8" text-anchor="start" fill="#333">Temp</text>
<polyline points="696.0,199.5 714.4,199.5" fill="none" stroke="#555" stroke-width="0.9"/>
<polygon points="693.2,199.9 696.8,198.3 696.8,201.5" fill="#1a1a1a"/>
<rect x="647.0" y="211.4" width="46.0" height="20.0" fill="#6eabdf" stroke="none" stroke-width="1"/>
<text x="670.0" y="219.3" font-size="9.1" text-anchor="middle" fill="#1a2a3a">BCC 4</text>
<text x="670.0" y="228.0" font-size="6.6" text-anchor="middle" fill="#1a2a3a">MC33775A</text>
<text x="698.0" y="212.0" font-size="3.8" text-anchor="start" fill="#333">Voltage</text>
<polyline points="696.0,213.5 714.4,213.5" fill="none" stroke="#a8a8a8" stroke-width="0.6"/>
<polygon points="693.2,213.6 696.8,212.0 696.8,215.2" fill="#1a1a1a"/>
<text x="702.0" y="219.7" font-size="3.8" text-anchor="start" fill="#333">Bal</text>
<polyline points="693.0,221.5 716.9,221.5" fill="none" stroke="#7a7a7a" stroke-width="0.8"/>
<polygon points="719.6,221.7 716.0,220.1 716.0,223.3" fill="#1a1a1a"/>
<text x="699.0" y="228.0" font-size="3.8" text-anchor="start" fill="#333">Temp</text>
<polyline points="696.0,230.5 714.4,230.5" fill="none" stroke="#555" stroke-width="0.9"/>
<polygon points="693.2,230.0 696.8,228.4 696.8,231.6" fill="#1a1a1a"/>
<text x="559.5" y="291.4" font-size="16" text-anchor="start" fill="#222">CMU B</text>
<rect x="647.0" y="287.3" width="46.0" height="20.0" fill="#6eabdf" stroke="none" stroke-width="1"/>
<text x="670.0" y="295.2" font-size="9.1" text-anchor="middle" fill="#1a2a3a">BCC 5</text>
<text x="670.0" y="303.9" font-size="6.6" text-anchor="middle" fill="#1a2a3a">MC33775A</text>
<polyline points="670.5,307.3 670.5,311.3" fill="none" stroke="#999" stroke-width="0.9"/>
<polyline points="670.5,313.7 670.5,317.4" fill="none" stroke="#999" stroke-width="0.9"/>
<polyline points="667.1,311.5 673.9,311.5" fill="none" stroke="#999" stroke-width="1"/>
<polyline points="667.1,313.5 673.9,313.5" fill="none" stroke="#999" stroke-width="1"/>
<text x="698.0" y="287.9" font-size="3.8" text-anchor="start" fill="#333">Voltage</text>
<polyline points="696.0,289.5 714.4,289.5" fill="none" stroke="#a8a8a8" stroke-width="0.6"/>
<polygon points="693.2,289.5 696.8,287.9 696.8,291.1" fill="#1a1a1a"/>
<text x="702.0" y="295.6" font-size="3.8" text-anchor="start" fill="#333">Bal</text>
<polyline points="693.0,297.5 716.9,297.5" fill="none" stroke="#7a7a7a" stroke-width="0.8"/>
<polygon points="719.6,297.6 716.0,296.0 716.0,299.2" fill="#1a1a1a"/>
<text x="699.0" y="303.9" font-size="3.8" text-anchor="start" fill="#333">Temp</text>
<polyline points="696.0,305.5 714.4,305.5" fill="none" stroke="#555" stroke-width="0.9"/>
<polygon points="693.2,305.9 696.8,304.3 696.8,307.5" fill="#1a1a1a"/>
<rect x="647.0" y="317.4" width="46.0" height="20.0" fill="#6eabdf" stroke="none" stroke-width="1"/>
<text x="670.0" y="325.3" font-size="9.1" text-anchor="middle" fill="#1a2a3a">BCC 6</text>
<text x="670.0" y="334.0" font-size="6.6" text-anchor="middle" fill="#1a2a3a">MC33775A</text>
<polyline points="670.5,337.4 670.5,341.4" fill="none" stroke="#333" stroke-width="0.9"/>
<polyline points="670.5,343.8 670.5,347.5" fill="none" stroke="#333" stroke-width="0.9"/>
<polyline points="667.1,341.5 673.9,341.5" fill="none" stroke="#333" stroke-width="1"/>
<polyline points="667.1,343.5 673.9,343.5" fill="none" stroke="#333" stroke-width="1"/>
<text x="698.0" y="318.0" font-size="3.8" text-anchor="start" fill="#333">Voltage</text>
<polyline points="696.0,319.5 714.4,319.5" fill="none" stroke="#a8a8a8" stroke-width="0.6"/>
<polygon points="693.2,319.6 696.8,318.0 696.8,321.2" fill="#1a1a1a"/>
<text x="702.0" y="325.7" font-size="3.8" text-anchor="start" fill="#333">Bal</text>
<polyline points="693.0,327.5 716.9,327.5" fill="none" stroke="#7a7a7a" stroke-width="0.8"/>
<polygon points="719.6,327.7 716.0,326.1 716.0,329.3" fill="#1a1a1a"/>
<text x="699.0" y="334.0" font-size="3.8" text-anchor="start" fill="#333">Temp</text>
<polyline points="696.0,336.5 714.4,336.5" fill="none" stroke="#555" stroke-width="0.9"/>
<polygon points="693.2,336.0 696.8,334.4 696.8,337.6" fill="#1a1a1a"/>
<rect x="647.0" y="347.5" width="46.0" height="20.0" fill="#6eabdf" stroke="none" stroke-width="1"/>
<text x="670.0" y="355.4" font-size="9.1" text-anchor="middle" fill="#1a2a3a">BCC 7</text>
<text x="670.0" y="364.1" font-size="6.6" text-anchor="middle" fill="#1a2a3a">MC33775A</text>
<polyline points="670.5,367.5 670.5,371.5" fill="none" stroke="#333" stroke-width="0.9"/>
<polyline points="670.5,373.9 670.5,377.6" fill="none" stroke="#333" stroke-width="0.9"/>
<polyline points="667.1,371.5 673.9,371.5" fill="none" stroke="#333" stroke-width="1"/>
<polyline points="667.1,373.5 673.9,373.5" fill="none" stroke="#333" stroke-width="1"/>
<text x="698.0" y="348.1" font-size="3.8" text-anchor="start" fill="#333">Voltage</text>
<polyline points="696.0,349.5 714.4,349.5" fill="none" stroke="#a8a8a8" stroke-width="0.6"/>
<polygon points="693.2,349.7 696.8,348.1 696.8,351.3" fill="#1a1a1a"/>
<text x="702.0" y="355.8" font-size="3.8" text-anchor="start" fill="#333">Bal</text>
<polyline points="693.0,357.5 716.9,357.5" fill="none" stroke="#7a7a7a" stroke-width="0.8"/>
<polygon points="719.6,357.8 716.0,356.2 716.0,359.4" fill="#1a1a1a"/>
<text x="699.0" y="364.1" font-size="3.8" text-anchor="start" fill="#333">Temp</text>
<polyline points="696.0,366.5 714.4,366.5" fill="none" stroke="#555" stroke-width="0.9"/>
<polygon points="693.2,366.1 696.8,364.5 696.8,367.7" fill="#1a1a1a"/>
<rect x="647.0" y="377.6" width="46.0" height="20.0" fill="#6eabdf" stroke="none" stroke-width="1"/>
<text x="670.0" y="385.5" font-size="9.1" text-anchor="middle" fill="#1a2a3a">BCC 8</text>
<text x="670.0" y="394.2" font-size="6.6" text-anchor="middle" fill="#1a2a3a">MC33775A</text>
<text x="698.0" y="378.2" font-size="3.8" text-anchor="start" fill="#333">Voltage</text>
<polyline points="696.0,379.5 714.4,379.5" fill="none" stroke="#a8a8a8" stroke-width="0.6"/>
<polygon points="693.2,379.8 696.8,378.2 696.8,381.4" fill="#1a1a1a"/>
<text x="702.0" y="385.9" font-size="3.8" text-anchor="start" fill="#333">Bal</text>
<polyline points="693.0,387.5 716.9,387.5" fill="none" stroke="#7a7a7a" stroke-width="0.8"/>
<polygon points="719.6,387.9 716.0,386.3 716.0,389.5" fill="#1a1a1a"/>
<text x="699.0" y="394.2" font-size="3.8" text-anchor="start" fill="#333">Temp</text>
<polyline points="696.0,396.5 714.4,396.5" fill="none" stroke="#555" stroke-width="0.9"/>
<polygon points="693.2,396.2 696.8,394.6 696.8,397.8" fill="#1a1a1a"/>
<text x="822.0" y="180.8" font-size="16" text-anchor="start" fill="#222">CMU C</text>
<rect x="900.0" y="175.8" width="46.0" height="20.0" fill="#6eabdf" stroke="none" stroke-width="1"/>
<text x="923.0" y="183.7" font-size="9.1" text-anchor="middle" fill="#1a2a3a">BCC 9</text>
<text x="923.0" y="192.4" font-size="6.6" text-anchor="middle" fill="#1a2a3a">MC33775A</text>
<polyline points="923.5,195.8 923.5,199.8" fill="none" stroke="#999" stroke-width="0.9"/>
<polyline points="923.5,202.2 923.5,205.9" fill="none" stroke="#999" stroke-width="0.9"/>
<polyline points="920.1,199.5 926.9,199.5" fill="none" stroke="#999" stroke-width="1"/>
<polyline points="920.1,201.5 926.9,201.5" fill="none" stroke="#999" stroke-width="1"/>
<text x="951.0" y="176.4" font-size="3.8" text-anchor="start" fill="#333">Voltage</text>
<polyline points="949.0,177.5 967.4,177.5" fill="none" stroke="#a8a8a8" stroke-width="0.6"/>
<polygon points="946.2,178.0 949.8,176.4 949.8,179.6" fill="#1a1a1a"/>
<text x="955.0" y="184.1" font-size="3.8" text-anchor="start" fill="#333">Bal</text>
<polyline points="946.0,186.5 969.9,186.5" fill="none" stroke="#7a7a7a" stroke-width="0.8"/>
<polygon points="972.6,186.1 969.0,184.5 969.0,187.7" fill="#1a1a1a"/>
<text x="952.0" y="192.4" font-size="3.8" text-anchor="start" fill="#333">Temp</text>
<polyline points="949.0,194.5 967.4,194.5" fill="none" stroke="#555" stroke-width="0.9"/>
<polygon points="946.2,194.4 949.8,192.8 949.8,196.0" fill="#1a1a1a"/>
<rect x="900.0" y="205.9" width="46.0" height="20.0" fill="#6eabdf" stroke="none" stroke-width="1"/>
<text x="923.0" y="213.8" font-size="9.1" text-anchor="middle" fill="#1a2a3a">BCC 10</text>
<text x="923.0" y="222.5" font-size="6.6" text-anchor="middle" fill="#1a2a3a">MC33775A</text>
<polyline points="923.5,225.9 923.5,229.9" fill="none" stroke="#333" stroke-width="0.9"/>
<polyline points="923.5,232.3 923.5,236.0" fill="none" stroke="#333" stroke-width="0.9"/>
<polyline points="920.1,230.5 926.9,230.5" fill="none" stroke="#333" stroke-width="1"/>
<polyline points="920.1,232.5 926.9,232.5" fill="none" stroke="#333" stroke-width="1"/>
<text x="951.0" y="206.5" font-size="3.8" text-anchor="start" fill="#333">Voltage</text>
<polyline points="949.0,208.5 967.4,208.5" fill="none" stroke="#a8a8a8" stroke-width="0.6"/>
<polygon points="946.2,208.1 949.8,206.5 949.8,209.7" fill="#1a1a1a"/>
<text x="955.0" y="214.2" font-size="3.8" text-anchor="start" fill="#333">Bal</text>
<polyline points="946.0,216.5 969.9,216.5" fill="none" stroke="#7a7a7a" stroke-width="0.8"/>
<polygon points="972.6,216.2 969.0,214.6 969.0,217.8" fill="#1a1a1a"/>
<text x="952.0" y="222.5" font-size="3.8" text-anchor="start" fill="#333">Temp</text>
<polyline points="949.0,224.5 967.4,224.5" fill="none" stroke="#555" stroke-width="0.9"/>
<polygon points="946.2,224.5 949.8,222.9 949.8,226.1" fill="#1a1a1a"/>
<rect x="900.0" y="236.0" width="46.0" height="20.0" fill="#6eabdf" stroke="none" stroke-width="1"/>
<text x="923.0" y="243.9" font-size="9.1" text-anchor="middle" fill="#1a2a3a">BCC 11</text>
<text x="923.0" y="252.6" font-size="6.6" text-anchor="middle" fill="#1a2a3a">MC33775A</text>
<polyline points="923.5,256.0 923.5,260.0" fill="none" stroke="#333" stroke-width="0.9"/>
<polyline points="923.5,262.4 923.5,266.1" fill="none" stroke="#333" stroke-width="0.9"/>
<polyline points="920.1,260.5 926.9,260.5" fill="none" stroke="#333" stroke-width="1"/>
<polyline points="920.1,262.5 926.9,262.5" fill="none" stroke="#333" stroke-width="1"/>
<text x="951.0" y="236.6" font-size="3.8" text-anchor="start" fill="#333">Voltage</text>
<polyline points="949.0,238.5 967.4,238.5" fill="none" stroke="#a8a8a8" stroke-width="0.6"/>
<polygon points="946.2,238.2 949.8,236.6 949.8,239.8" fill="#1a1a1a"/>
<text x="955.0" y="244.3" font-size="3.8" text-anchor="start" fill="#333">Bal</text>
<polyline points="946.0,246.5 969.9,246.5" fill="none" stroke="#7a7a7a" stroke-width="0.8"/>
<polygon points="972.6,246.3 969.0,244.7 969.0,247.9" fill="#1a1a1a"/>
<text x="952.0" y="252.6" font-size="3.8" text-anchor="start" fill="#333">Temp</text>
<polyline points="949.0,254.5 967.4,254.5" fill="none" stroke="#555" stroke-width="0.9"/>
<polygon points="946.2,254.6 949.8,253.0 949.8,256.2" fill="#1a1a1a"/>
<rect x="900.0" y="266.1" width="46.0" height="20.0" fill="#6eabdf" stroke="none" stroke-width="1"/>
<text x="923.0" y="274.0" font-size="9.1" text-anchor="middle" fill="#1a2a3a">BCC 12</text>
<text x="923.0" y="282.7" font-size="6.6" text-anchor="middle" fill="#1a2a3a">MC33775A</text>
<text x="951.0" y="266.7" font-size="3.8" text-anchor="start" fill="#333">Voltage</text>
<polyline points="949.0,268.5 967.4,268.5" fill="none" stroke="#a8a8a8" stroke-width="0.6"/>
<polygon points="946.2,268.3 949.8,266.7 949.8,269.9" fill="#1a1a1a"/>
<text x="955.0" y="274.4" font-size="3.8" text-anchor="start" fill="#333">Bal</text>
<polyline points="946.0,276.5 969.9,276.5" fill="none" stroke="#7a7a7a" stroke-width="0.8"/>
<polygon points="972.6,276.4 969.0,274.8 969.0,278.0" fill="#1a1a1a"/>
<text x="952.0" y="282.7" font-size="3.8" text-anchor="start" fill="#333">Temp</text>
<polyline points="949.0,284.5 967.4,284.5" fill="none" stroke="#555" stroke-width="0.9"/>
<polygon points="946.2,284.7 949.8,283.1 949.8,286.3" fill="#1a1a1a"/>
<text x="822.0" y="346.5" font-size="16" text-anchor="start" fill="#222">CMU D</text>
<rect x="900.0" y="342.0" width="46.0" height="20.0" fill="#6eabdf" stroke="none" stroke-width="1"/>
<text x="923.0" y="349.9" font-size="9.1" text-anchor="middle" fill="#1a2a3a">BCC 13</text>
<text x="923.0" y="358.6" font-size="6.6" text-anchor="middle" fill="#1a2a3a">MC33775A</text>
<polyline points="923.5,362.0 923.5,366.0" fill="none" stroke="#999" stroke-width="0.9"/>
<polyline points="923.5,368.4 923.5,372.1" fill="none" stroke="#999" stroke-width="0.9"/>
<polyline points="920.1,366.5 926.9,366.5" fill="none" stroke="#999" stroke-width="1"/>
<polyline points="920.1,368.5 926.9,368.5" fill="none" stroke="#999" stroke-width="1"/>
<text x="951.0" y="342.6" font-size="3.8" text-anchor="start" fill="#333">Voltage</text>
<polyline points="949.0,344.5 967.4,344.5" fill="none" stroke="#a8a8a8" stroke-width="0.6"/>
<polygon points="946.2,344.2 949.8,342.6 949.8,345.8" fill="#1a1a1a"/>
<text x="955.0" y="350.3" font-size="3.8" text-anchor="start" fill="#333">Bal</text>
<polyline points="946.0,352.5 969.9,352.5" fill="none" stroke="#7a7a7a" stroke-width="0.8"/>
<polygon points="972.6,352.3 969.0,350.7 969.0,353.9" fill="#1a1a1a"/>
<text x="952.0" y="358.6" font-size="3.8" text-anchor="start" fill="#333">Temp</text>
<polyline points="949.0,360.5 967.4,360.5" fill="none" stroke="#555" stroke-width="0.9"/>
<polygon points="946.2,360.6 949.8,359.0 949.8,362.2" fill="#1a1a1a"/>
<rect x="900.0" y="372.1" width="46.0" height="20.0" fill="#6eabdf" stroke="none" stroke-width="1"/>
<text x="923.0" y="380.0" font-size="9.1" text-anchor="middle" fill="#1a2a3a">BCC 14</text>
<text x="923.0" y="388.7" font-size="6.6" text-anchor="middle" fill="#1a2a3a">MC33775A</text>
<polyline points="923.5,392.1 923.5,396.1" fill="none" stroke="#333" stroke-width="0.9"/>
<polyline points="923.5,398.5 923.5,402.2" fill="none" stroke="#333" stroke-width="0.9"/>
<polyline points="920.1,396.5 926.9,396.5" fill="none" stroke="#333" stroke-width="1"/>
<polyline points="920.1,398.5 926.9,398.5" fill="none" stroke="#333" stroke-width="1"/>
<text x="951.0" y="372.7" font-size="3.8" text-anchor="start" fill="#333">Voltage</text>
<polyline points="949.0,374.5 967.4,374.5" fill="none" stroke="#a8a8a8" stroke-width="0.6"/>
<polygon points="946.2,374.3 949.8,372.7 949.8,375.9" fill="#1a1a1a"/>
<text x="955.0" y="380.4" font-size="3.8" text-anchor="start" fill="#333">Bal</text>
<polyline points="946.0,382.5 969.9,382.5" fill="none" stroke="#7a7a7a" stroke-width="0.8"/>
<polygon points="972.6,382.4 969.0,380.8 969.0,384.0" fill="#1a1a1a"/>
<text x="952.0" y="388.7" font-size="3.8" text-anchor="start" fill="#333">Temp</text>
<polyline points="949.0,390.5 967.4,390.5" fill="none" stroke="#555" stroke-width="0.9"/>
<polygon points="946.2,390.7 949.8,389.1 949.8,392.3" fill="#1a1a1a"/>
<rect x="900.0" y="402.2" width="46.0" height="20.0" fill="#6eabdf" stroke="none" stroke-width="1"/>
<text x="923.0" y="410.1" font-size="9.1" text-anchor="middle" fill="#1a2a3a">BCC 15</text>
<text x="923.0" y="418.8" font-size="6.6" text-anchor="middle" fill="#1a2a3a">MC33775A</text>
<polyline points="923.5,422.2 923.5,426.2" fill="none" stroke="#333" stroke-width="0.9"/>
<polyline points="923.5,428.6 923.5,432.3" fill="none" stroke="#333" stroke-width="0.9"/>
<polyline points="920.1,426.5 926.9,426.5" fill="none" stroke="#333" stroke-width="1"/>
<polyline points="920.1,428.5 926.9,428.5" fill="none" stroke="#333" stroke-width="1"/>
<text x="951.0" y="402.8" font-size="3.8" text-anchor="start" fill="#333">Voltage</text>
<polyline points="949.0,404.5 967.4,404.5" fill="none" stroke="#a8a8a8" stroke-width="0.6"/>
<polygon points="946.2,404.4 949.8,402.8 949.8,406.0" fill="#1a1a1a"/>
<text x="955.0" y="410.5" font-size="3.8" text-anchor="start" fill="#333">Bal</text>
<polyline points="946.0,412.5 969.9,412.5" fill="none" stroke="#7a7a7a" stroke-width="0.8"/>
<polygon points="972.6,412.5 969.0,410.9 969.0,414.1" fill="#1a1a1a"/>
<text x="952.0" y="418.8" font-size="3.8" text-anchor="start" fill="#333">Temp</text>
<polyline points="949.0,420.5 967.4,420.5" fill="none" stroke="#555" stroke-width="0.9"/>
<polygon points="946.2,420.8 949.8,419.2 949.8,422.4" fill="#1a1a1a"/>
<rect x="900.0" y="432.3" width="46.0" height="20.0" fill="#6eabdf" stroke="none" stroke-width="1"/>
<text x="923.0" y="440.2" font-size="9.1" text-anchor="middle" fill="#1a2a3a">BCC 16</text>
<text x="923.0" y="448.9" font-size="6.6" text-anchor="middle" fill="#1a2a3a">MC33775A</text>
<text x="951.0" y="432.9" font-size="3.8" text-anchor="start" fill="#333">Voltage</text>
<polyline points="949.0,434.5 967.4,434.5" fill="none" stroke="#a8a8a8" stroke-width="0.6"/>
<polygon points="946.2,434.5 949.8,432.9 949.8,436.1" fill="#1a1a1a"/>
<text x="955.0" y="440.6" font-size="3.8" text-anchor="start" fill="#333">Bal</text>
<polyline points="946.0,442.5 969.9,442.5" fill="none" stroke="#7a7a7a" stroke-width="0.8"/>
<polygon points="972.6,442.6 969.0,441.0 969.0,444.2" fill="#1a1a1a"/>
<text x="952.0" y="448.9" font-size="3.8" text-anchor="start" fill="#333">Temp</text>
<polyline points="949.0,450.5 967.4,450.5" fill="none" stroke="#555" stroke-width="0.9"/>
<polygon points="946.2,450.9 949.8,449.3 949.8,452.5" fill="#1a1a1a"/>
<polyline points="696.5,96.3 696.5,258.4" fill="none" stroke="#222" stroke-width="1" stroke-dasharray="3 2"/>
<polyline points="696.5,273.4 696.5,414.4" fill="none" stroke="#222" stroke-width="1" stroke-dasharray="3 2"/>
<polyline points="951.5,162.2 951.5,314.1" fill="none" stroke="#222" stroke-width="1" stroke-dasharray="3 2"/>
<polyline points="951.5,329.5 951.5,470.3" fill="none" stroke="#222" stroke-width="1" stroke-dasharray="3 2"/>
<polyline points="714.5,99.0 714.5,414.4" fill="none" stroke="#222" stroke-width="1" stroke-dasharray="3 2"/>
<polyline points="967.5,153.2 967.5,469.3" fill="none" stroke="#333" stroke-width="0.9" stroke-dasharray="1.5 1.5"/>
<polyline points="813.0,186.5 900.0,186.5" fill="none" stroke="#ddd" stroke-width="0"/>
<path d="M663.4,260.1 a2.21,3.20 0 0 0 4.43,0 a2.21,3.20 0 0 0 4.43,0 a2.21,3.20 0 0 0 4.43,0 a2.21,3.20 0 0 0 4.43,0" fill="none" stroke="#222" stroke-width="0.9"/>
<path d="M663.4,272.9 a2.21,3.20 0 0 1 4.43,0 a2.21,3.20 0 0 1 4.43,0 a2.21,3.20 0 0 1 4.43,0 a2.21,3.20 0 0 1 4.43,0" fill="none" stroke="#222" stroke-width="0.9"/>
<polyline points="662.5,265.5 682.0,265.5" fill="none" stroke="#222" stroke-width="0.9"/>
<polyline points="662.5,267.5 682.0,267.5" fill="none" stroke="#222" stroke-width="0.9"/>
<polyline points="663.5,231.0 663.5,260.1" fill="none" stroke="#222" stroke-width="1.0"/>
<polyline points="681.5,231.0 681.5,260.1" fill="none" stroke="#444" stroke-width="1.5"/>
<polyline points="663.5,272.9 663.5,287.4" fill="none" stroke="#222" stroke-width="1.0"/>
<polyline points="681.5,272.9 681.5,287.4" fill="none" stroke="#444" stroke-width="1.5"/>
<path d="M914.5,315.6 a2.25,3.00 0 0 0 4.50,0 a2.25,3.00 0 0 0 4.50,0 a2.25,3.00 0 0 0 4.50,0 a2.25,3.00 0 0 0 4.50,0" fill="none" stroke="#222" stroke-width="0.9"/>
<path d="M914.5,327.4 a2.25,3.00 0 0 1 4.50,0 a2.25,3.00 0 0 1 4.50,0 a2.25,3.00 0 0 1 4.50,0 a2.25,3.00 0 0 1 4.50,0" fill="none" stroke="#222" stroke-width="0.9"/>
<polyline points="913.6,320.5 933.4,320.5" fill="none" stroke="#222" stroke-width="0.9"/>
<polyline points="913.6,322.5 933.4,322.5" fill="none" stroke="#222" stroke-width="0.9"/>
<polyline points="914.5,286.0 914.5,315.6" fill="none" stroke="#222" stroke-width="1.1"/>
<polyline points="932.5,286.0 932.5,315.6" fill="none" stroke="#222" stroke-width="1.1"/>
<polyline points="914.5,327.4 914.5,342.0" fill="none" stroke="#222" stroke-width="1.1"/>
<polyline points="932.5,327.4 932.5,342.0" fill="none" stroke="#222" stroke-width="1.1"/>
<polyline points="745.5,80.4 745.5,99.0" fill="none" stroke="#1a1a1a" stroke-width="1.1"/>
<polyline points="745.5,68.5 745.5,80.4" fill="none" stroke="#d8d8d8" stroke-width="0.8"/>
<polyline points="721.0,68.5 745.8,68.5" fill="none" stroke="#999" stroke-width="0.8"/>
<polygon points="718.4,68.4 722.4,66.7 722.4,70.1" fill="#1a1a1a"/>
<text x="721.0" y="63.0" font-size="4.6" text-anchor="start" fill="#333">HVSense_HV1+</text>
<text x="753.8" y="83.5" font-size="7" text-anchor="start" fill="#777">HV1+</text>
<rect x="720.3" y="114.8" width="23.4" height="29.4" fill="#eeeeee" stroke="#222" stroke-width="1.1"/>
<polyline points="732.5,114.8 732.5,144.2" fill="none" stroke="#555" stroke-width="0.8" stroke-dasharray="2.5 1"/>
<polyline points="727.0,118.5 737.0,118.5" fill="none" stroke="#bbb" stroke-width="0.6"/>
<polyline points="729.2,120.5 734.8,120.5" fill="none" stroke="#222" stroke-width="1"/>
<polyline points="727.0,133.5 737.0,133.5" fill="none" stroke="#bbb" stroke-width="0.6"/>
<polyline points="729.2,136.5 734.8,136.5" fill="none" stroke="#222" stroke-width="1"/>
<polyline points="729.2,141.5 734.8,141.5" fill="none" stroke="#222" stroke-width="1"/>
<rect x="720.3" y="146.0" width="23.4" height="29.4" fill="#eeeeee" stroke="#222" stroke-width="1.1"/>
<polyline points="732.5,146.0 732.5,175.4" fill="none" stroke="#555" stroke-width="0.8" stroke-dasharray="2.5 1"/>
<polyline points="727.0,149.5 737.0,149.5" fill="none" stroke="#bbb" stroke-width="0.6"/>
<polyline points="729.2,151.5 734.8,151.5" fill="none" stroke="#222" stroke-width="1"/>
<polyline points="727.0,165.5 737.0,165.5" fill="none" stroke="#bbb" stroke-width="0.6"/>
<polyline points="729.2,167.5 734.8,167.5" fill="none" stroke="#222" stroke-width="1"/>
<polyline points="729.2,172.5 734.8,172.5" fill="none" stroke="#222" stroke-width="1"/>
<rect x="720.3" y="177.0" width="23.4" height="29.4" fill="#eeeeee" stroke="#222" stroke-width="1.1"/>
<polyline points="732.5,177.0 732.5,206.4" fill="none" stroke="#555" stroke-width="0.8" stroke-dasharray="2.5 1"/>
<polyline points="727.0,180.5 737.0,180.5" fill="none" stroke="#bbb" stroke-width="0.6"/>
<polyline points="729.2,182.5 734.8,182.5" fill="none" stroke="#222" stroke-width="1"/>
<polyline points="727.0,196.5 737.0,196.5" fill="none" stroke="#bbb" stroke-width="0.6"/>
<polyline points="729.2,198.5 734.8,198.5" fill="none" stroke="#222" stroke-width="1"/>
<polyline points="729.2,203.5 734.8,203.5" fill="none" stroke="#222" stroke-width="1"/>
<rect x="720.3" y="208.0" width="23.4" height="29.4" fill="#eeeeee" stroke="#222" stroke-width="1.1"/>
<polyline points="732.5,208.0 732.5,237.4" fill="none" stroke="#555" stroke-width="0.8" stroke-dasharray="2.5 1"/>
<polyline points="727.0,211.5 737.0,211.5" fill="none" stroke="#bbb" stroke-width="0.6"/>
<polyline points="729.2,213.5 734.8,213.5" fill="none" stroke="#222" stroke-width="1"/>
<polyline points="727.0,227.5 737.0,227.5" fill="none" stroke="#bbb" stroke-width="0.6"/>
<polyline points="729.2,229.5 734.8,229.5" fill="none" stroke="#222" stroke-width="1"/>
<polyline points="729.2,234.5 734.8,234.5" fill="none" stroke="#222" stroke-width="1"/>
<rect x="720.3" y="280.3" width="23.4" height="30.4" fill="#eeeeee" stroke="#222" stroke-width="1.1"/>
<polyline points="732.5,280.3 732.5,310.7" fill="none" stroke="#555" stroke-width="0.8" stroke-dasharray="2.5 1"/>
<polyline points="727.0,283.5 737.0,283.5" fill="none" stroke="#bbb" stroke-width="0.6"/>
<polyline points="729.2,286.5 734.8,286.5" fill="none" stroke="#222" stroke-width="1"/>
<polyline points="727.0,299.5 737.0,299.5" fill="none" stroke="#bbb" stroke-width="0.6"/>
<polyline points="729.2,301.5 734.8,301.5" fill="none" stroke="#222" stroke-width="1"/>
<polyline points="729.2,306.5 734.8,306.5" fill="none" stroke="#222" stroke-width="1"/>
<rect x="720.3" y="310.6" width="23.4" height="30.4" fill="#eeeeee" stroke="#222" stroke-width="1.1"/>
<polyline points="732.5,310.6 732.5,341.0" fill="none" stroke="#555" stroke-width="0.8" stroke-dasharray="2.5 1"/>
<polyline points="727.0,313.5 737.0,313.5" fill="none" stroke="#bbb" stroke-width="0.6"/>
<polyline points="729.2,316.5 734.8,316.5" fill="none" stroke="#222" stroke-width="1"/>
<polyline points="727.0,329.5 737.0,329.5" fill="none" stroke="#bbb" stroke-width="0.6"/>
<polyline points="729.2,332.5 734.8,332.5" fill="none" stroke="#222" stroke-width="1"/>
<polyline points="729.2,336.5 734.8,336.5" fill="none" stroke="#222" stroke-width="1"/>
<rect x="720.3" y="341.6" width="23.4" height="30.4" fill="#eeeeee" stroke="#222" stroke-width="1.1"/>
<polyline points="732.5,341.6 732.5,372.0" fill="none" stroke="#555" stroke-width="0.8" stroke-dasharray="2.5 1"/>
<polyline points="727.0,344.5 737.0,344.5" fill="none" stroke="#bbb" stroke-width="0.6"/>
<polyline points="729.2,347.5 734.8,347.5" fill="none" stroke="#222" stroke-width="1"/>
<polyline points="727.0,360.5 737.0,360.5" fill="none" stroke="#bbb" stroke-width="0.6"/>
<polyline points="729.2,363.5 734.8,363.5" fill="none" stroke="#222" stroke-width="1"/>
<polyline points="729.2,367.5 734.8,367.5" fill="none" stroke="#222" stroke-width="1"/>
<rect x="720.3" y="372.6" width="23.4" height="30.4" fill="#eeeeee" stroke="#222" stroke-width="1.1"/>
<polyline points="732.5,372.6 732.5,403.0" fill="none" stroke="#555" stroke-width="0.8" stroke-dasharray="2.5 1"/>
<polyline points="727.0,375.5 737.0,375.5" fill="none" stroke="#bbb" stroke-width="0.6"/>
<polyline points="729.2,378.5 734.8,378.5" fill="none" stroke="#222" stroke-width="1"/>
<polyline points="727.0,391.5 737.0,391.5" fill="none" stroke="#bbb" stroke-width="0.6"/>
<polyline points="729.2,394.5 734.8,394.5" fill="none" stroke="#222" stroke-width="1"/>
<polyline points="729.2,398.5 734.8,398.5" fill="none" stroke="#222" stroke-width="1"/>
<rect x="719.8" y="243.5" width="20.6" height="28.5" fill="#eeeeee" stroke="#333" stroke-width="1"/>
<text x="722.0" y="252.8" font-size="7" text-anchor="start" fill="#222">F1</text>
<polyline points="732.5,237.4 732.5,243.5" fill="none" stroke="#444" stroke-width="0.9"/>
<path d="M732,243.5 L732,256.5 c-3.4,1.8 -3.4,3.6 0,5 c3.4,1.4 3.4,3.6 0,5 L732,280.3" fill="none" stroke="#333" stroke-width="0.9"/>
<text x="752.2" y="259.5" font-size="7.3" text-anchor="middle" fill="#222" transform="rotate(-90 752.2 259.5)">Battery</text>
<polyline points="732.5,403.0 732.5,423.4" fill="none" stroke="#444" stroke-width="1"/>
<circle cx="731.5" cy="423.5" r="3.2" fill="#000"/>
<text x="735.0" y="432.3" font-size="7" text-anchor="start" fill="#222">HV1-</text>
<rect x="973.4" y="169.0" width="23.2" height="31.0" fill="#eeeeee" stroke="#222" stroke-width="1.1"/>
<polyline points="985.5,169.0 985.5,200.0" fill="none" stroke="#555" stroke-width="0.8" stroke-dasharray="2.5 1"/>
<polyline points="980.0,172.5 990.0,172.5" fill="none" stroke="#bbb" stroke-width="0.6"/>
<polyline points="982.2,174.5 987.8,174.5" fill="none" stroke="#222" stroke-width="1"/>
<polyline points="980.0,188.5 990.0,188.5" fill="none" stroke="#bbb" stroke-width="0.6"/>
<polyline points="982.2,190.5 987.8,190.5" fill="none" stroke="#222" stroke-width="1"/>
<polyline points="982.2,195.5 987.8,195.5" fill="none" stroke="#222" stroke-width="1"/>
<rect x="973.4" y="200.0" width="23.2" height="31.0" fill="#eeeeee" stroke="#222" stroke-width="1.1"/>
<polyline points="985.5,200.0 985.5,231.0" fill="none" stroke="#555" stroke-width="0.8" stroke-dasharray="2.5 1"/>
<polyline points="980.0,203.5 990.0,203.5" fill="none" stroke="#bbb" stroke-width="0.6"/>
<polyline points="982.2,205.5 987.8,205.5" fill="none" stroke="#222" stroke-width="1"/>
<polyline points="980.0,219.5 990.0,219.5" fill="none" stroke="#bbb" stroke-width="0.6"/>
<polyline points="982.2,221.5 987.8,221.5" fill="none" stroke="#222" stroke-width="1"/>
<polyline points="982.2,226.5 987.8,226.5" fill="none" stroke="#222" stroke-width="1"/>
<rect x="973.4" y="231.0" width="23.2" height="31.0" fill="#eeeeee" stroke="#222" stroke-width="1.1"/>
<polyline points="985.5,231.0 985.5,262.0" fill="none" stroke="#555" stroke-width="0.8" stroke-dasharray="2.5 1"/>
<polyline points="980.0,234.5 990.0,234.5" fill="none" stroke="#bbb" stroke-width="0.6"/>
<polyline points="982.2,236.5 987.8,236.5" fill="none" stroke="#222" stroke-width="1"/>
<polyline points="980.0,250.5 990.0,250.5" fill="none" stroke="#bbb" stroke-width="0.6"/>
<polyline points="982.2,252.5 987.8,252.5" fill="none" stroke="#222" stroke-width="1"/>
<polyline points="982.2,257.5 987.8,257.5" fill="none" stroke="#222" stroke-width="1"/>
<rect x="973.4" y="262.0" width="23.2" height="31.0" fill="#eeeeee" stroke="#222" stroke-width="1.1"/>
<polyline points="985.5,262.0 985.5,293.0" fill="none" stroke="#555" stroke-width="0.8" stroke-dasharray="2.5 1"/>
<polyline points="980.0,265.5 990.0,265.5" fill="none" stroke="#bbb" stroke-width="0.6"/>
<polyline points="982.2,267.5 987.8,267.5" fill="none" stroke="#222" stroke-width="1"/>
<polyline points="980.0,281.5 990.0,281.5" fill="none" stroke="#bbb" stroke-width="0.6"/>
<polyline points="982.2,283.5 987.8,283.5" fill="none" stroke="#222" stroke-width="1"/>
<polyline points="982.2,288.5 987.8,288.5" fill="none" stroke="#222" stroke-width="1"/>
<rect x="973.4" y="335.3" width="23.2" height="29.0" fill="#eeeeee" stroke="#222" stroke-width="1.1"/>
<polyline points="985.5,335.3 985.5,364.3" fill="none" stroke="#555" stroke-width="0.8" stroke-dasharray="2.5 1"/>
<polyline points="980.0,338.5 990.0,338.5" fill="none" stroke="#bbb" stroke-width="0.6"/>
<polyline points="982.2,341.5 987.8,341.5" fill="none" stroke="#222" stroke-width="1"/>
<polyline points="980.0,354.5 990.0,354.5" fill="none" stroke="#bbb" stroke-width="0.6"/>
<polyline points="982.2,356.5 987.8,356.5" fill="none" stroke="#222" stroke-width="1"/>
<polyline points="982.2,361.5 987.8,361.5" fill="none" stroke="#222" stroke-width="1"/>
<rect x="973.4" y="366.5" width="23.2" height="29.0" fill="#eeeeee" stroke="#222" stroke-width="1.1"/>
<polyline points="985.5,366.5 985.5,395.5" fill="none" stroke="#555" stroke-width="0.8" stroke-dasharray="2.5 1"/>
<polyline points="980.0,369.5 990.0,369.5" fill="none" stroke="#bbb" stroke-width="0.6"/>
<polyline points="982.2,372.5 987.8,372.5" fill="none" stroke="#222" stroke-width="1"/>
<polyline points="980.0,385.5 990.0,385.5" fill="none" stroke="#bbb" stroke-width="0.6"/>
<polyline points="982.2,388.5 987.8,388.5" fill="none" stroke="#222" stroke-width="1"/>
<polyline points="982.2,392.5 987.8,392.5" fill="none" stroke="#222" stroke-width="1"/>
<rect x="973.4" y="397.5" width="23.2" height="29.0" fill="#eeeeee" stroke="#222" stroke-width="1.1"/>
<polyline points="985.5,397.5 985.5,426.5" fill="none" stroke="#555" stroke-width="0.8" stroke-dasharray="2.5 1"/>
<polyline points="980.0,400.5 990.0,400.5" fill="none" stroke="#bbb" stroke-width="0.6"/>
<polyline points="982.2,403.5 987.8,403.5" fill="none" stroke="#222" stroke-width="1"/>
<polyline points="980.0,416.5 990.0,416.5" fill="none" stroke="#bbb" stroke-width="0.6"/>
<polyline points="982.2,419.5 987.8,419.5" fill="none" stroke="#222" stroke-width="1"/>
<polyline points="982.2,423.5 987.8,423.5" fill="none" stroke="#222" stroke-width="1"/>
<rect x="973.4" y="428.5" width="23.2" height="29.0" fill="#eeeeee" stroke="#222" stroke-width="1.1"/>
<polyline points="985.5,428.5 985.5,457.5" fill="none" stroke="#555" stroke-width="0.8" stroke-dasharray="2.5 1"/>
<polyline points="980.0,431.5 990.0,431.5" fill="none" stroke="#bbb" stroke-width="0.6"/>
<polyline points="982.2,434.5 987.8,434.5" fill="none" stroke="#222" stroke-width="1"/>
<polyline points="980.0,447.5 990.0,447.5" fill="none" stroke="#bbb" stroke-width="0.6"/>
<polyline points="982.2,450.5 987.8,450.5" fill="none" stroke="#222" stroke-width="1"/>
<polyline points="982.2,454.5 987.8,454.5" fill="none" stroke="#222" stroke-width="1"/>
<rect x="973.0" y="298.0" width="20.6" height="29.0" fill="#eeeeee" stroke="#aaa" stroke-width="1"/>
<text x="975.0" y="307.3" font-size="7" text-anchor="start" fill="#333">F2</text>
<path d="M985,293 L985,309.5 c-3.4,1.8 -3.4,3.6 0,5 c3.4,1.4 3.4,3.6 0,5 L985,335.3" fill="none" stroke="#333" stroke-width="0.9"/>
<text x="1005.0" y="313.0" font-size="7.3" text-anchor="middle" fill="#222" transform="rotate(-90 1005.0 313.0)">Battery</text>
<polyline points="985.5,457.5 985.5,515.6" fill="none" stroke="#333" stroke-width="1"/>
<circle cx="985.0" cy="515.6" r="3.2" fill="#000"/>
<text x="991.0" y="529.5" font-size="7.6" text-anchor="start" fill="#333">HV2-</text>
<polyline points="985.5,515.6 985.5,529.5 961.0,529.5" fill="none" stroke="#1a1a1a" stroke-width="1"/>
<polygon points="958.0,529.6 962.2,527.8 962.2,531.4" fill="#1a1a1a"/>
<text x="957.0" y="537.3" font-size="4.6" text-anchor="start" fill="#333">HVSense_HV2-</text>
<circle cx="984.8" cy="135.4" r="3.2" fill="#000"/>
<text x="991.8" y="138.4" font-size="7.3" text-anchor="start" fill="#333">HV2+</text>
<polyline points="881.9,135.5 984.7,135.5" fill="none" stroke="#1a1a1a" stroke-width="1.1"/>
<rect x="851.4" y="126.3" width="30.5" height="15.1" fill="#fff" stroke="#222" stroke-width="1"/>
<text x="854.4" y="134.0" font-size="8" text-anchor="start" fill="#222">K7</text>
<polyline points="851.4,135.5 863.8,135.5" fill="none" stroke="#9a9a9a" stroke-width="1.1"/>
<polyline points="863.8,135.6 869.6,128.6" fill="none" stroke="#1a1a1a" stroke-width="1"/>
<polyline points="871.7,135.5 881.9,135.5" fill="none" stroke="#1a1a1a" stroke-width="1.1"/>
<polygon points="939.6,90.8 943.6,89.1 943.6,92.5" fill="#1a1a1a"/>
<polyline points="943.0,90.5 984.7,90.5" fill="none" stroke="#ddd" stroke-width="0.5"/>
<text x="945.0" y="87.6" font-size="4.6" text-anchor="start" fill="#333">HVSense_HV2+</text>
<text x="36.6" y="556.3" font-size="10.5" text-anchor="start" fill="#222" textLength="278" lengthAdjust="spacingAndGlyphs">Note: The precharge circuit is not highlighted in this diagram</text>
</svg>
</body></html>
